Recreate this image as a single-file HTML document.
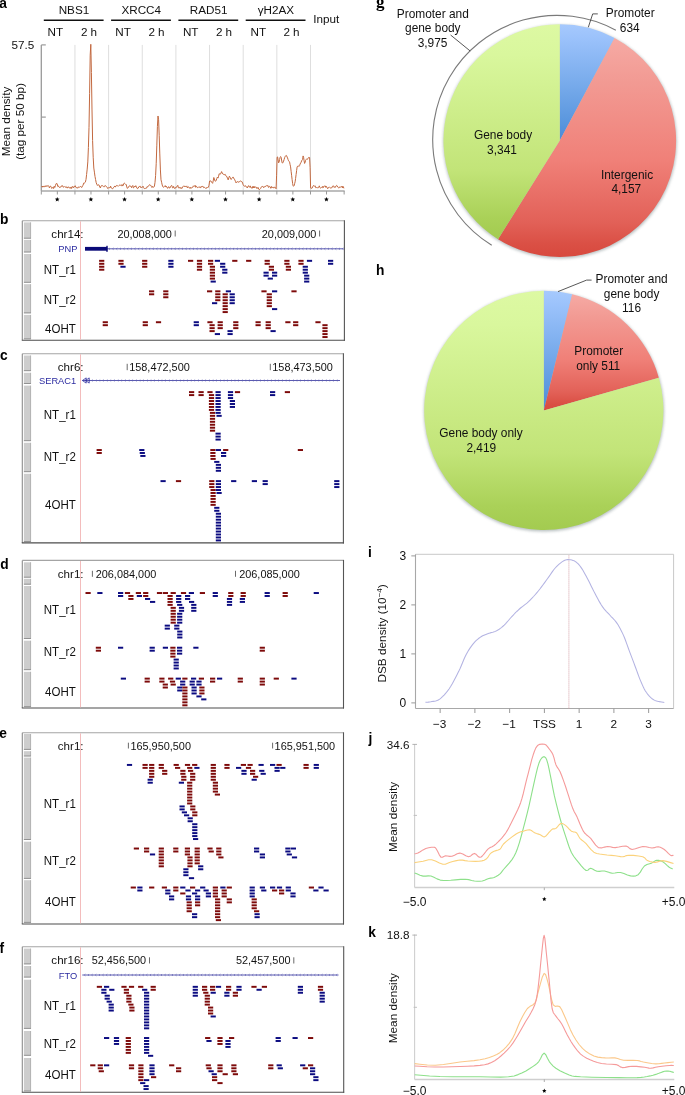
<!DOCTYPE html>
<html><head><meta charset="utf-8"><style>
html,body{margin:0;padding:0;background:#fff;width:685px;height:1095px;overflow:hidden;}
svg{display:block;font-family:"Liberation Sans", sans-serif;will-change:transform;}
</style></head><body>
<svg width="685" height="1095" viewBox="0 0 685 1095"><defs>
<linearGradient id="gGreen" x1="0" y1="0" x2="0" y2="1">
 <stop offset="0" stop-color="#ddf9a3"/><stop offset="0.14" stop-color="#d9f79d"/>
 <stop offset="0.68" stop-color="#c2e478"/><stop offset="0.9" stop-color="#aad158"/><stop offset="1" stop-color="#a3cb50"/>
</linearGradient>
<linearGradient id="gRed" x1="0" y1="0" x2="0" y2="1">
 <stop offset="0" stop-color="#f6aaa4"/><stop offset="0.2" stop-color="#f29a93"/>
 <stop offset="0.56" stop-color="#f08078"/><stop offset="0.84" stop-color="#e26158"/><stop offset="0.945" stop-color="#da4f44"/><stop offset="1" stop-color="#d8493e"/>
</linearGradient>
<linearGradient id="gBlue" x1="0" y1="0" x2="0" y2="1">
 <stop offset="0" stop-color="#a6c9fd"/><stop offset="0.12" stop-color="#9bc2fb"/>
 <stop offset="0.84" stop-color="#5a97de"/><stop offset="1" stop-color="#4a8ad8"/>
</linearGradient>
<filter id="pieShadow" x="-10%" y="-10%" width="120%" height="120%"><feGaussianBlur stdDeviation="1.6"/></filter>
</defs><text transform="translate(-0.80,7.90) scale(0.9,1)" font-size="15.3" font-weight="bold" fill="#000" font-family='"Liberation Sans", sans-serif'>a</text>
<text x="73.95" y="14.20" font-size="11.7" text-anchor="middle" fill="#111" font-weight="normal" font-family='"Liberation Sans", sans-serif' >NBS1</text>
<line x1="43.80" y1="20.20" x2="103.60" y2="20.20" stroke="#111" stroke-width="1.5" />
<text x="55.40" y="36.00" font-size="11.7" text-anchor="middle" fill="#111" font-weight="normal" font-family='"Liberation Sans", sans-serif' >NT</text>
<text x="89.00" y="36.00" font-size="11.7" text-anchor="middle" fill="#111" font-weight="normal" font-family='"Liberation Sans", sans-serif' >2 h</text>
<text x="141.25" y="14.20" font-size="11.7" text-anchor="middle" fill="#111" font-weight="normal" font-family='"Liberation Sans", sans-serif' >XRCC4</text>
<line x1="111.10" y1="20.20" x2="170.90" y2="20.20" stroke="#111" stroke-width="1.5" />
<text x="123.05" y="36.00" font-size="11.7" text-anchor="middle" fill="#111" font-weight="normal" font-family='"Liberation Sans", sans-serif' >NT</text>
<text x="156.50" y="36.00" font-size="11.7" text-anchor="middle" fill="#111" font-weight="normal" font-family='"Liberation Sans", sans-serif' >2 h</text>
<text x="208.55" y="14.20" font-size="11.7" text-anchor="middle" fill="#111" font-weight="normal" font-family='"Liberation Sans", sans-serif' >RAD51</text>
<line x1="178.40" y1="20.20" x2="238.20" y2="20.20" stroke="#111" stroke-width="1.5" />
<text x="190.70" y="36.00" font-size="11.7" text-anchor="middle" fill="#111" font-weight="normal" font-family='"Liberation Sans", sans-serif' >NT</text>
<text x="224.00" y="36.00" font-size="11.7" text-anchor="middle" fill="#111" font-weight="normal" font-family='"Liberation Sans", sans-serif' >2 h</text>
<text x="275.85" y="14.20" font-size="11.7" text-anchor="middle" fill="#111" font-weight="normal" font-family='"Liberation Sans", sans-serif' >γH2AX</text>
<line x1="245.70" y1="20.20" x2="305.50" y2="20.20" stroke="#111" stroke-width="1.5" />
<text x="258.35" y="36.00" font-size="11.7" text-anchor="middle" fill="#111" font-weight="normal" font-family='"Liberation Sans", sans-serif' >NT</text>
<text x="291.50" y="36.00" font-size="11.7" text-anchor="middle" fill="#111" font-weight="normal" font-family='"Liberation Sans", sans-serif' >2 h</text>
<text x="313.30" y="23.30" font-size="11.7" text-anchor="start" fill="#111" font-weight="normal" font-family='"Liberation Sans", sans-serif' >Input</text>
<line x1="41.30" y1="44.90" x2="41.30" y2="191.00" stroke="#999" stroke-width="1.3" />
<line x1="41.30" y1="44.90" x2="45.80" y2="44.90" stroke="#999" stroke-width="1.2" />
<line x1="41.30" y1="117.10" x2="45.80" y2="117.10" stroke="#999" stroke-width="1.2" />
<text x="34.30" y="49.20" font-size="11.7" text-anchor="end" fill="#111" font-weight="normal" font-family='"Liberation Sans", sans-serif' >57.5</text>
<text transform="translate(10.0,121.5) rotate(-90)" font-size="11.7" text-anchor="middle" fill="#111" font-family='"Liberation Sans", sans-serif'>Mean density</text>
<text transform="translate(24.2,121.5) rotate(-90)" font-size="11.7" text-anchor="middle" fill="#111" font-family='"Liberation Sans", sans-serif'>(tag per 50 bp)</text>
<line x1="74.95" y1="44.90" x2="74.95" y2="191.00" stroke="#dedede" stroke-width="1" />
<line x1="108.60" y1="44.90" x2="108.60" y2="191.00" stroke="#dedede" stroke-width="1" />
<line x1="142.25" y1="44.90" x2="142.25" y2="191.00" stroke="#dedede" stroke-width="1" />
<line x1="175.90" y1="44.90" x2="175.90" y2="191.00" stroke="#dedede" stroke-width="1" />
<line x1="209.55" y1="44.90" x2="209.55" y2="191.00" stroke="#dedede" stroke-width="1" />
<line x1="243.20" y1="44.90" x2="243.20" y2="191.00" stroke="#dedede" stroke-width="1" />
<line x1="276.85" y1="44.90" x2="276.85" y2="191.00" stroke="#dedede" stroke-width="1" />
<line x1="310.50" y1="44.90" x2="310.50" y2="191.00" stroke="#dedede" stroke-width="1" />
<line x1="41.30" y1="191.00" x2="344.65" y2="191.00" stroke="#a8a8a8" stroke-width="1.5" />
<line x1="41.30" y1="191.00" x2="41.30" y2="194.50" stroke="#999" stroke-width="1" />
<line x1="57.33" y1="191.00" x2="57.33" y2="194.50" stroke="#999" stroke-width="1" />
<line x1="74.95" y1="191.00" x2="74.95" y2="194.50" stroke="#999" stroke-width="1" />
<line x1="90.97" y1="191.00" x2="90.97" y2="194.50" stroke="#999" stroke-width="1" />
<line x1="108.60" y1="191.00" x2="108.60" y2="194.50" stroke="#999" stroke-width="1" />
<line x1="124.62" y1="191.00" x2="124.62" y2="194.50" stroke="#999" stroke-width="1" />
<line x1="142.25" y1="191.00" x2="142.25" y2="194.50" stroke="#999" stroke-width="1" />
<line x1="158.27" y1="191.00" x2="158.27" y2="194.50" stroke="#999" stroke-width="1" />
<line x1="175.90" y1="191.00" x2="175.90" y2="194.50" stroke="#999" stroke-width="1" />
<line x1="191.92" y1="191.00" x2="191.92" y2="194.50" stroke="#999" stroke-width="1" />
<line x1="209.55" y1="191.00" x2="209.55" y2="194.50" stroke="#999" stroke-width="1" />
<line x1="225.57" y1="191.00" x2="225.57" y2="194.50" stroke="#999" stroke-width="1" />
<line x1="243.20" y1="191.00" x2="243.20" y2="194.50" stroke="#999" stroke-width="1" />
<line x1="259.22" y1="191.00" x2="259.22" y2="194.50" stroke="#999" stroke-width="1" />
<line x1="276.85" y1="191.00" x2="276.85" y2="194.50" stroke="#999" stroke-width="1" />
<line x1="292.88" y1="191.00" x2="292.88" y2="194.50" stroke="#999" stroke-width="1" />
<line x1="310.50" y1="191.00" x2="310.50" y2="194.50" stroke="#999" stroke-width="1" />
<line x1="326.52" y1="191.00" x2="326.52" y2="194.50" stroke="#999" stroke-width="1" />
<line x1="344.15" y1="191.00" x2="344.15" y2="194.50" stroke="#999" stroke-width="1" />
<path d="M57.23,196.90 L57.89,198.49 L59.60,198.63 L58.29,199.75 L58.69,201.42 L57.23,200.53 L55.76,201.42 L56.16,199.75 L54.85,198.63 L56.56,198.49Z" fill="#000"/>
<path d="M90.87,196.90 L91.54,198.49 L93.25,198.63 L91.94,199.75 L92.34,201.42 L90.87,200.53 L89.41,201.42 L89.81,199.75 L88.50,198.63 L90.21,198.49Z" fill="#000"/>
<path d="M124.52,196.90 L125.19,198.49 L126.90,198.63 L125.59,199.75 L125.99,201.42 L124.52,200.53 L123.06,201.42 L123.46,199.75 L122.15,198.63 L123.86,198.49Z" fill="#000"/>
<path d="M158.17,196.90 L158.84,198.49 L160.55,198.63 L159.24,199.75 L159.64,201.42 L158.17,200.53 L156.71,201.42 L157.11,199.75 L155.80,198.63 L157.51,198.49Z" fill="#000"/>
<path d="M191.82,196.90 L192.49,198.49 L194.20,198.63 L192.89,199.75 L193.29,201.42 L191.82,200.53 L190.36,201.42 L190.76,199.75 L189.45,198.63 L191.16,198.49Z" fill="#000"/>
<path d="M225.47,196.90 L226.14,198.49 L227.85,198.63 L226.54,199.75 L226.94,201.42 L225.47,200.53 L224.01,201.42 L224.41,199.75 L223.10,198.63 L224.81,198.49Z" fill="#000"/>
<path d="M259.12,196.90 L259.79,198.49 L261.50,198.63 L260.19,199.75 L260.59,201.42 L259.12,200.53 L257.66,201.42 L258.06,199.75 L256.75,198.63 L258.46,198.49Z" fill="#000"/>
<path d="M292.78,196.90 L293.44,198.49 L295.15,198.63 L293.84,199.75 L294.24,201.42 L292.78,200.53 L291.31,201.42 L291.71,199.75 L290.40,198.63 L292.11,198.49Z" fill="#000"/>
<path d="M326.43,196.90 L327.09,198.49 L328.80,198.63 L327.49,199.75 L327.89,201.42 L326.43,200.53 L324.96,201.42 L325.36,199.75 L324.05,198.63 L325.76,198.49Z" fill="#000"/>
<path d="M41.60,186.69 L42.20,186.01 L42.80,187.22 L43.40,185.96 L44.00,186.87 L44.60,186.69 L45.20,185.74 L45.80,186.71 L46.40,185.68 L47.00,186.47 L47.60,185.70 L48.20,185.48 L48.80,186.38 L49.40,187.86 L50.00,186.34 L50.60,186.09 L51.20,187.18 L51.80,188.49 L52.40,187.87 L53.00,187.13 L53.60,188.53 L54.20,186.22 L54.80,187.45 L55.40,185.63 L56.00,183.95 L56.60,183.18 L57.20,184.02 L57.80,186.52 L58.40,185.96 L59.00,187.03 L59.60,187.56 L60.20,186.96 L60.80,187.25 L61.40,185.95 L62.00,185.48 L62.60,185.74 L63.20,187.21 L63.80,186.99 L64.40,186.58 L65.00,187.23 L65.60,187.07 L66.20,186.57 L66.80,187.83 L67.40,187.99 L68.00,186.73 L68.60,187.25 L69.20,187.28 L69.80,188.31 L70.40,188.25 L71.00,186.94 L71.60,188.49 L72.20,186.53 L72.80,186.71 L73.40,187.75 L74.00,186.36 L74.60,186.83 L75.20,185.69 L75.80,187.09 L76.40,187.84 L77.00,187.52 L77.60,188.25 L78.20,186.83 L78.80,187.37 L79.40,187.19 L80.00,186.98 L80.60,186.41 L81.20,187.15 L81.80,187.49 L82.40,185.95 L83.00,185.57 L83.60,183.18 L84.20,183.52 L84.80,182.56 L85.40,181.96 L86.00,179.47 L86.60,174.44 L87.20,169.08 L87.80,161.92 L88.40,147.59 L89.00,127.32 L89.60,93.68 L90.20,55.19 L90.80,44.29 L91.40,72.50 L92.00,109.99 L92.60,140.55 L93.20,157.24 L93.80,168.03 L94.40,172.14 L95.00,176.50 L95.60,179.63 L96.20,182.65 L96.80,184.24 L97.40,185.46 L98.00,184.59 L98.60,185.00 L99.20,185.21 L99.80,187.00 L100.40,187.98 L101.00,186.09 L101.60,185.59 L102.20,185.64 L102.80,185.71 L103.40,186.51 L104.00,187.12 L104.60,186.41 L105.20,185.42 L105.80,186.30 L106.40,186.47 L107.00,187.11 L107.60,188.46 L108.20,188.17 L108.80,187.57 L109.40,187.65 L110.00,187.85 L110.60,186.12 L111.20,187.97 L111.80,188.26 L112.40,188.64 L113.00,188.55 L113.60,187.35 L114.20,186.94 L114.80,185.94 L115.40,187.13 L116.00,185.89 L116.60,185.47 L117.20,185.73 L117.80,185.69 L118.40,186.19 L119.00,185.52 L119.60,185.12 L120.20,185.38 L120.80,185.21 L121.40,185.69 L122.00,184.51 L122.60,186.07 L123.20,185.37 L123.80,183.48 L124.40,183.15 L125.00,183.67 L125.60,184.42 L126.20,184.48 L126.80,186.95 L127.40,188.42 L128.00,187.48 L128.60,187.22 L129.20,185.97 L129.80,185.58 L130.40,186.14 L131.00,186.11 L131.60,187.73 L132.20,186.36 L132.80,185.48 L133.40,187.86 L134.00,187.46 L134.60,186.21 L135.20,186.92 L135.80,185.67 L136.40,186.68 L137.00,188.34 L137.60,188.58 L138.20,188.18 L138.80,186.77 L139.40,186.58 L140.00,185.93 L140.60,187.45 L141.20,187.28 L141.80,187.93 L142.40,186.84 L143.00,186.14 L143.60,187.59 L144.20,188.59 L144.80,188.55 L145.40,188.38 L146.00,188.34 L146.60,188.08 L147.20,186.47 L147.80,186.73 L148.40,186.31 L149.00,185.18 L149.60,184.74 L150.20,185.25 L150.80,185.31 L151.40,186.50 L152.00,187.57 L152.60,186.33 L153.20,187.12 L153.80,187.21 L154.40,186.37 L155.00,182.33 L155.60,175.59 L156.20,163.75 L156.80,145.87 L157.40,126.58 L158.00,115.98 L158.60,119.74 L159.20,135.32 L159.80,153.95 L160.40,169.96 L161.00,179.81 L161.60,182.24 L162.20,184.97 L162.80,186.73 L163.40,187.09 L164.00,187.24 L164.60,186.59 L165.20,185.57 L165.80,187.05 L166.40,186.30 L167.00,187.43 L167.60,188.36 L168.20,187.05 L168.80,186.63 L169.40,188.09 L170.00,187.97 L170.60,186.34 L171.20,185.66 L171.80,185.50 L172.40,187.65 L173.00,188.12 L173.60,186.38 L174.20,187.75 L174.80,188.69 L175.40,188.08 L176.00,186.99 L176.60,187.19 L177.20,186.05 L177.80,185.32 L178.40,187.84 L179.00,187.79 L179.60,187.42 L180.20,188.48 L180.80,187.40 L181.40,188.30 L182.00,188.48 L182.60,186.76 L183.20,186.28 L183.80,186.24 L184.40,186.07 L185.00,187.02 L185.60,186.40 L186.20,186.65 L186.80,185.90 L187.40,187.90 L188.00,186.99 L188.60,186.97 L189.20,187.33 L189.80,188.39 L190.40,187.36 L191.00,188.44 L191.60,187.61 L192.20,187.41 L192.80,187.32 L193.40,185.82 L194.00,186.52 L194.60,186.02 L195.20,185.33 L195.80,187.39 L196.40,186.30 L197.00,186.79 L197.60,187.69 L198.20,187.52 L198.80,186.79 L199.40,187.09 L200.00,187.31 L200.60,188.05 L201.20,186.34 L201.80,187.06 L202.40,186.41 L203.00,186.26 L203.60,187.65 L204.20,187.37 L204.80,187.42 L205.40,188.02 L206.00,188.67 L206.60,187.54 L207.20,187.63 L207.80,187.36 L208.40,187.28 L209.00,185.23 L209.60,181.03 L210.20,180.87 L210.80,180.89 L211.40,182.07 L212.00,182.56 L212.60,183.35 L213.20,180.92 L213.80,177.50 L214.40,178.82 L215.00,181.02 L215.60,181.22 L216.20,180.46 L216.80,178.46 L217.40,177.10 L218.00,178.11 L218.60,176.23 L219.20,173.69 L219.80,174.08 L220.40,174.16 L221.00,173.06 L221.60,171.59 L222.20,172.98 L222.80,173.90 L223.40,174.04 L224.00,174.87 L224.60,174.64 L225.20,174.34 L225.80,175.78 L226.40,176.07 L227.00,176.97 L227.60,178.73 L228.20,179.87 L228.80,177.80 L229.40,176.19 L230.00,177.08 L230.60,178.86 L231.20,179.51 L231.80,178.35 L232.40,177.66 L233.00,176.93 L233.60,177.97 L234.20,178.97 L234.80,179.80 L235.40,181.39 L236.00,182.92 L236.60,182.46 L237.20,181.40 L237.80,181.92 L238.40,182.01 L239.00,182.37 L239.60,181.43 L240.20,181.25 L240.80,180.81 L241.40,181.57 L242.00,181.69 L242.60,183.04 L243.20,184.75 L243.80,185.78 L244.40,186.22 L245.00,185.83 L245.60,185.76 L246.20,186.95 L246.80,187.12 L247.40,187.95 L248.00,186.27 L248.60,185.59 L249.20,187.18 L249.80,186.97 L250.40,185.88 L251.00,188.00 L251.60,187.87 L252.20,188.31 L252.80,186.38 L253.40,187.94 L254.00,186.20 L254.60,187.90 L255.20,187.31 L255.80,186.78 L256.40,187.26 L257.00,188.66 L257.60,187.61 L258.20,187.48 L258.80,189.34 L259.40,189.63 L260.00,189.21 L260.60,188.51 L261.20,187.14 L261.80,186.57 L262.40,186.46 L263.00,186.36 L263.60,187.64 L264.20,186.74 L264.80,187.04 L265.40,186.21 L266.00,186.41 L266.60,185.52 L267.20,185.89 L267.80,185.33 L268.40,187.22 L269.00,187.35 L269.60,186.35 L270.20,186.83 L270.80,188.33 L271.40,186.45 L272.00,187.86 L272.60,187.23 L273.20,187.19 L273.80,188.17 L274.40,187.23 L275.00,187.23 L275.60,187.75 L276.10,188.79 L276.60,175.16 L277.10,157.22 L277.60,156.89 L278.10,160.00 L278.60,162.85 L279.10,161.99 L279.60,159.49 L280.10,157.31 L280.60,156.53 L281.10,157.23 L281.60,160.01 L282.10,162.86 L282.60,163.05 L283.10,162.31 L283.60,161.13 L284.10,159.52 L284.60,157.71 L285.10,156.62 L285.60,155.77 L286.10,155.37 L286.60,155.63 L287.10,157.06 L287.60,157.99 L288.10,159.66 L288.60,160.81 L289.10,161.35 L289.60,162.05 L290.10,164.73 L290.60,166.85 L291.10,171.24 L291.60,175.24 L292.10,179.48 L292.60,183.36 L293.10,185.95 L293.60,186.23 L294.10,185.69 L294.60,183.76 L295.10,181.87 L295.60,178.43 L296.10,174.53 L296.60,170.63 L297.10,167.02 L297.60,166.16 L298.10,165.68 L298.60,166.14 L299.10,166.46 L299.60,165.56 L300.10,164.05 L300.60,163.04 L301.10,162.26 L301.60,160.91 L302.10,159.94 L302.60,159.38 L303.10,155.92 L303.60,157.30 L304.10,160.84 L304.60,163.46 L305.10,162.45 L305.60,160.32 L306.10,159.39 L306.60,158.94 L307.10,159.54 L307.60,159.09 L308.10,158.25 L308.60,157.44 L309.10,157.54 L309.60,157.47 L310.10,167.75 L310.60,187.92 L311.10,188.59 L311.60,188.22 L312.10,188.11 L312.70,186.74 L313.30,185.68 L313.90,185.60 L314.50,186.24 L315.10,185.72 L315.70,187.65 L316.30,187.53 L316.90,187.68 L317.50,187.73 L318.10,187.91 L318.70,187.42 L319.30,185.83 L319.90,187.58 L320.50,188.05 L321.10,187.51 L321.70,187.41 L322.30,187.73 L322.90,186.13 L323.50,187.51 L324.10,186.59 L324.70,185.75 L325.30,186.01 L325.90,187.45 L326.50,186.43 L327.10,187.63 L327.70,188.73 L328.30,187.72 L328.90,187.04 L329.50,187.08 L330.10,187.69 L330.70,188.14 L331.30,187.87 L331.90,187.85 L332.50,186.20 L333.10,185.83 L333.70,186.00 L334.30,187.49 L334.90,186.73 L335.50,187.23 L336.10,185.80 L336.70,185.43 L337.30,185.91 L337.90,187.25 L338.50,187.77 L339.10,187.91 L339.70,186.84 L340.30,187.12 L340.90,187.07 L341.50,187.06 L342.10,186.04 L342.70,187.94 L343.30,186.58 L343.90,188.37" fill="none" stroke="#c2683f" stroke-width="1.0" stroke-linejoin="round" />
<text transform="translate(0.00,223.60) scale(0.9,1)" font-size="15.3" font-weight="bold" fill="#000" font-family='"Liberation Sans", sans-serif'>b</text>
<line x1="22.30" y1="220.70" x2="344.40" y2="220.70" stroke="#a4a4a4" stroke-width="1.1" />
<line x1="22.30" y1="220.70" x2="22.30" y2="340.20" stroke="#8c8c8c" stroke-width="1.1" />
<line x1="344.40" y1="220.20" x2="344.40" y2="340.70" stroke="#555" stroke-width="1.1" />
<line x1="21.80" y1="340.20" x2="344.90" y2="340.20" stroke="#4c4c4c" stroke-width="1.1" />
<rect x="23.90" y="222.40" width="7.00" height="16.10" fill="#cdcdcd" />
<line x1="30.60" y1="222.40" x2="30.60" y2="238.50" stroke="#a9a9a9" stroke-width="0.8" />
<line x1="23.90" y1="238.20" x2="30.90" y2="238.20" stroke="#8a8a8a" stroke-width="0.9" />
<rect x="23.90" y="239.90" width="7.00" height="12.40" fill="#cdcdcd" />
<line x1="30.60" y1="239.90" x2="30.60" y2="252.30" stroke="#a9a9a9" stroke-width="0.8" />
<line x1="23.90" y1="252.00" x2="30.90" y2="252.00" stroke="#8a8a8a" stroke-width="0.9" />
<rect x="23.90" y="254.00" width="7.00" height="28.60" fill="#cdcdcd" />
<line x1="30.60" y1="254.00" x2="30.60" y2="282.60" stroke="#a9a9a9" stroke-width="0.8" />
<line x1="23.90" y1="282.30" x2="30.90" y2="282.30" stroke="#8a8a8a" stroke-width="0.9" />
<rect x="23.90" y="284.20" width="7.00" height="29.00" fill="#cdcdcd" />
<line x1="30.60" y1="284.20" x2="30.60" y2="313.20" stroke="#a9a9a9" stroke-width="0.8" />
<line x1="23.90" y1="312.90" x2="30.90" y2="312.90" stroke="#8a8a8a" stroke-width="0.9" />
<rect x="23.90" y="314.90" width="7.00" height="24.30" fill="#cdcdcd" />
<line x1="30.60" y1="314.90" x2="30.60" y2="339.20" stroke="#a9a9a9" stroke-width="0.8" />
<line x1="23.90" y1="338.90" x2="30.90" y2="338.90" stroke="#8a8a8a" stroke-width="0.9" />
<line x1="80.50" y1="221.30" x2="80.50" y2="339.60" stroke="#f2b4b4" stroke-width="0.9" />
<text x="83.60" y="237.90" font-size="11.6" text-anchor="end" fill="#111" font-weight="normal" font-family='"Liberation Sans", sans-serif' >chr14:</text>
<line x1="175.20" y1="230.50" x2="175.20" y2="236.50" stroke="#444" stroke-width="0.8" />
<text x="171.90" y="237.90" font-size="10.9" text-anchor="end" fill="#111" font-weight="normal" font-family='"Liberation Sans", sans-serif' >20,008,000</text>
<line x1="319.60" y1="230.50" x2="319.60" y2="236.50" stroke="#444" stroke-width="0.8" />
<text x="316.30" y="237.90" font-size="10.9" text-anchor="end" fill="#111" font-weight="normal" font-family='"Liberation Sans", sans-serif' >20,009,000</text>
<text x="77.40" y="251.60" font-size="9.3" text-anchor="end" fill="#2b2ba0" font-weight="normal" font-family='"Liberation Sans", sans-serif' >PNP</text>
<line x1="85.00" y1="248.80" x2="343.50" y2="248.80" stroke="#4a4aa8" stroke-width="0.9" />
<path d="M88.10,247.90 L87.00,248.80 L88.10,249.70 M91.75,247.90 L90.65,248.80 L91.75,249.70 M95.40,247.90 L94.30,248.80 L95.40,249.70 M99.05,247.90 L97.95,248.80 L99.05,249.70 M102.70,247.90 L101.60,248.80 L102.70,249.70 M106.35,247.90 L105.25,248.80 L106.35,249.70 M110.00,247.90 L108.90,248.80 L110.00,249.70 M113.65,247.90 L112.55,248.80 L113.65,249.70 M117.30,247.90 L116.20,248.80 L117.30,249.70 M120.95,247.90 L119.85,248.80 L120.95,249.70 M124.60,247.90 L123.50,248.80 L124.60,249.70 M128.25,247.90 L127.15,248.80 L128.25,249.70 M131.90,247.90 L130.80,248.80 L131.90,249.70 M135.55,247.90 L134.45,248.80 L135.55,249.70 M139.20,247.90 L138.10,248.80 L139.20,249.70 M142.85,247.90 L141.75,248.80 L142.85,249.70 M146.50,247.90 L145.40,248.80 L146.50,249.70 M150.15,247.90 L149.05,248.80 L150.15,249.70 M153.80,247.90 L152.70,248.80 L153.80,249.70 M157.45,247.90 L156.35,248.80 L157.45,249.70 M161.10,247.90 L160.00,248.80 L161.10,249.70 M164.75,247.90 L163.65,248.80 L164.75,249.70 M168.40,247.90 L167.30,248.80 L168.40,249.70 M172.05,247.90 L170.95,248.80 L172.05,249.70 M175.70,247.90 L174.60,248.80 L175.70,249.70 M179.35,247.90 L178.25,248.80 L179.35,249.70 M183.00,247.90 L181.90,248.80 L183.00,249.70 M186.65,247.90 L185.55,248.80 L186.65,249.70 M190.30,247.90 L189.20,248.80 L190.30,249.70 M193.95,247.90 L192.85,248.80 L193.95,249.70 M197.60,247.90 L196.50,248.80 L197.60,249.70 M201.25,247.90 L200.15,248.80 L201.25,249.70 M204.90,247.90 L203.80,248.80 L204.90,249.70 M208.55,247.90 L207.45,248.80 L208.55,249.70 M212.20,247.90 L211.10,248.80 L212.20,249.70 M215.85,247.90 L214.75,248.80 L215.85,249.70 M219.50,247.90 L218.40,248.80 L219.50,249.70 M223.15,247.90 L222.05,248.80 L223.15,249.70 M226.80,247.90 L225.70,248.80 L226.80,249.70 M230.45,247.90 L229.35,248.80 L230.45,249.70 M234.10,247.90 L233.00,248.80 L234.10,249.70 M237.75,247.90 L236.65,248.80 L237.75,249.70 M241.40,247.90 L240.30,248.80 L241.40,249.70 M245.05,247.90 L243.95,248.80 L245.05,249.70 M248.70,247.90 L247.60,248.80 L248.70,249.70 M252.35,247.90 L251.25,248.80 L252.35,249.70 M256.00,247.90 L254.90,248.80 L256.00,249.70 M259.65,247.90 L258.55,248.80 L259.65,249.70 M263.30,247.90 L262.20,248.80 L263.30,249.70 M266.95,247.90 L265.85,248.80 L266.95,249.70 M270.60,247.90 L269.50,248.80 L270.60,249.70 M274.25,247.90 L273.15,248.80 L274.25,249.70 M277.90,247.90 L276.80,248.80 L277.90,249.70 M281.55,247.90 L280.45,248.80 L281.55,249.70 M285.20,247.90 L284.10,248.80 L285.20,249.70 M288.85,247.90 L287.75,248.80 L288.85,249.70 M292.50,247.90 L291.40,248.80 L292.50,249.70 M296.15,247.90 L295.05,248.80 L296.15,249.70 M299.80,247.90 L298.70,248.80 L299.80,249.70 M303.45,247.90 L302.35,248.80 L303.45,249.70 M307.10,247.90 L306.00,248.80 L307.10,249.70 M310.75,247.90 L309.65,248.80 L310.75,249.70 M314.40,247.90 L313.30,248.80 L314.40,249.70 M318.05,247.90 L316.95,248.80 L318.05,249.70 M321.70,247.90 L320.60,248.80 L321.70,249.70 M325.35,247.90 L324.25,248.80 L325.35,249.70 M329.00,247.90 L327.90,248.80 L329.00,249.70 M332.65,247.90 L331.55,248.80 L332.65,249.70 M336.30,247.90 L335.20,248.80 L336.30,249.70 M339.95,247.90 L338.85,248.80 L339.95,249.70 M343.60,247.90 L342.50,248.80 L343.60,249.70" fill="none" stroke="#5a5ab0" stroke-width="0.6"/>
<rect x="85.00" y="246.90" width="22.20" height="3.80" fill="#0a0a78" />
<rect x="106.30" y="245.80" width="1.40" height="6.00" fill="#0a0a78" />
<text transform="translate(75.8,274.10) scale(0.93,1)" font-size="12.4" text-anchor="end" fill="#111" font-family='"Liberation Sans", sans-serif'>NT_r1</text>
<rect x="99.10" y="259.85" width="5.20" height="1.95" fill="#7d0a0a" />
<rect x="99.10" y="262.81" width="5.20" height="1.95" fill="#7d0a0a" />
<rect x="99.10" y="265.78" width="5.20" height="1.95" fill="#7d0a0a" />
<rect x="99.10" y="268.75" width="5.20" height="1.95" fill="#7d0a0a" />
<rect x="118.40" y="259.85" width="5.20" height="1.95" fill="#7d0a0a" />
<rect x="118.40" y="262.81" width="5.20" height="1.95" fill="#7d0a0a" />
<rect x="120.40" y="265.78" width="5.20" height="1.95" fill="#0b0b80" />
<rect x="142.10" y="259.85" width="5.20" height="1.95" fill="#7d0a0a" />
<rect x="142.10" y="262.81" width="5.20" height="1.95" fill="#7d0a0a" />
<rect x="142.10" y="265.78" width="5.20" height="1.95" fill="#7d0a0a" />
<rect x="168.30" y="259.85" width="5.20" height="1.95" fill="#0b0b80" />
<rect x="168.30" y="262.81" width="5.20" height="1.95" fill="#0b0b80" />
<rect x="168.30" y="265.78" width="5.20" height="1.95" fill="#0b0b80" />
<rect x="188.00" y="259.85" width="5.20" height="1.95" fill="#7d0a0a" />
<rect x="196.90" y="259.85" width="5.20" height="1.95" fill="#7d0a0a" />
<rect x="196.90" y="262.81" width="5.20" height="1.95" fill="#7d0a0a" />
<rect x="196.90" y="265.78" width="5.20" height="1.95" fill="#7d0a0a" />
<rect x="196.90" y="268.75" width="5.20" height="1.95" fill="#7d0a0a" />
<rect x="208.00" y="259.85" width="5.20" height="1.95" fill="#7d0a0a" />
<rect x="208.00" y="262.81" width="5.20" height="1.95" fill="#7d0a0a" />
<rect x="209.80" y="265.78" width="5.20" height="1.95" fill="#7d0a0a" />
<rect x="209.80" y="268.75" width="5.20" height="1.95" fill="#7d0a0a" />
<rect x="209.80" y="271.71" width="5.20" height="1.95" fill="#7d0a0a" />
<rect x="209.80" y="274.68" width="5.20" height="1.95" fill="#7d0a0a" />
<rect x="209.80" y="277.64" width="5.20" height="1.95" fill="#7d0a0a" />
<rect x="210.60" y="280.61" width="5.20" height="1.95" fill="#0b0b80" />
<rect x="214.80" y="259.85" width="5.20" height="1.95" fill="#0b0b80" />
<rect x="220.10" y="262.81" width="5.20" height="1.95" fill="#0b0b80" />
<rect x="220.10" y="265.78" width="5.20" height="1.95" fill="#0b0b80" />
<rect x="222.20" y="268.75" width="5.20" height="1.95" fill="#0b0b80" />
<rect x="222.20" y="271.71" width="5.20" height="1.95" fill="#0b0b80" />
<rect x="232.20" y="259.85" width="5.20" height="1.95" fill="#7d0a0a" />
<rect x="246.10" y="259.85" width="5.20" height="1.95" fill="#7d0a0a" />
<rect x="264.60" y="259.85" width="5.20" height="1.95" fill="#7d0a0a" />
<rect x="264.60" y="262.81" width="5.20" height="1.95" fill="#7d0a0a" />
<rect x="268.80" y="265.78" width="5.20" height="1.95" fill="#7d0a0a" />
<rect x="268.80" y="268.75" width="5.20" height="1.95" fill="#7d0a0a" />
<rect x="263.50" y="271.71" width="5.20" height="1.95" fill="#0b0b80" />
<rect x="263.50" y="274.68" width="5.20" height="1.95" fill="#0b0b80" />
<rect x="272.00" y="271.71" width="5.20" height="1.95" fill="#0b0b80" />
<rect x="272.00" y="274.68" width="5.20" height="1.95" fill="#0b0b80" />
<rect x="267.70" y="277.64" width="5.20" height="1.95" fill="#0b0b80" />
<rect x="284.30" y="259.85" width="5.20" height="1.95" fill="#7d0a0a" />
<rect x="284.30" y="262.81" width="5.20" height="1.95" fill="#7d0a0a" />
<rect x="285.80" y="265.78" width="5.20" height="1.95" fill="#7d0a0a" />
<rect x="285.80" y="268.75" width="5.20" height="1.95" fill="#7d0a0a" />
<rect x="298.40" y="259.85" width="5.20" height="1.95" fill="#7d0a0a" />
<rect x="298.40" y="262.81" width="5.20" height="1.95" fill="#7d0a0a" />
<rect x="306.90" y="259.85" width="5.20" height="1.95" fill="#0b0b80" />
<rect x="302.70" y="265.78" width="5.20" height="1.95" fill="#0b0b80" />
<rect x="302.70" y="268.75" width="5.20" height="1.95" fill="#0b0b80" />
<rect x="302.70" y="271.71" width="5.20" height="1.95" fill="#0b0b80" />
<rect x="304.10" y="274.68" width="5.20" height="1.95" fill="#0b0b80" />
<rect x="304.10" y="277.64" width="5.20" height="1.95" fill="#0b0b80" />
<rect x="304.10" y="280.61" width="5.20" height="1.95" fill="#0b0b80" />
<rect x="328.00" y="259.85" width="5.20" height="1.95" fill="#0b0b80" />
<rect x="328.00" y="262.81" width="5.20" height="1.95" fill="#0b0b80" />
<text transform="translate(75.8,303.90) scale(0.93,1)" font-size="12.4" text-anchor="end" fill="#111" font-family='"Liberation Sans", sans-serif'>NT_r2</text>
<rect x="149.00" y="290.35" width="5.20" height="1.95" fill="#7d0a0a" />
<rect x="149.00" y="293.31" width="5.20" height="1.95" fill="#7d0a0a" />
<rect x="163.20" y="290.35" width="5.20" height="1.95" fill="#7d0a0a" />
<rect x="163.20" y="293.31" width="5.20" height="1.95" fill="#7d0a0a" />
<rect x="163.20" y="296.28" width="5.20" height="1.95" fill="#7d0a0a" />
<rect x="207.00" y="290.35" width="5.20" height="1.95" fill="#7d0a0a" />
<rect x="212.00" y="302.21" width="5.20" height="1.95" fill="#0b0b80" />
<rect x="215.20" y="290.35" width="5.20" height="1.95" fill="#7d0a0a" />
<rect x="215.20" y="293.31" width="5.20" height="1.95" fill="#7d0a0a" />
<rect x="215.20" y="296.28" width="5.20" height="1.95" fill="#7d0a0a" />
<rect x="215.20" y="299.25" width="5.20" height="1.95" fill="#7d0a0a" />
<rect x="225.80" y="290.35" width="5.20" height="1.95" fill="#0b0b80" />
<rect x="222.60" y="293.31" width="5.20" height="1.95" fill="#7d0a0a" />
<rect x="222.60" y="296.28" width="5.20" height="1.95" fill="#7d0a0a" />
<rect x="222.60" y="299.25" width="5.20" height="1.95" fill="#7d0a0a" />
<rect x="222.60" y="302.21" width="5.20" height="1.95" fill="#7d0a0a" />
<rect x="222.60" y="305.18" width="5.20" height="1.95" fill="#7d0a0a" />
<rect x="222.60" y="308.14" width="5.20" height="1.95" fill="#7d0a0a" />
<rect x="222.60" y="311.11" width="5.20" height="1.95" fill="#7d0a0a" />
<rect x="229.60" y="293.31" width="5.20" height="1.95" fill="#0b0b80" />
<rect x="229.60" y="296.28" width="5.20" height="1.95" fill="#0b0b80" />
<rect x="229.60" y="299.25" width="5.20" height="1.95" fill="#0b0b80" />
<rect x="229.60" y="302.21" width="5.20" height="1.95" fill="#0b0b80" />
<rect x="261.40" y="290.35" width="5.20" height="1.95" fill="#7d0a0a" />
<rect x="272.00" y="290.35" width="5.20" height="1.95" fill="#0b0b80" />
<rect x="266.70" y="293.31" width="5.20" height="1.95" fill="#7d0a0a" />
<rect x="266.70" y="296.28" width="5.20" height="1.95" fill="#7d0a0a" />
<rect x="266.70" y="299.25" width="5.20" height="1.95" fill="#7d0a0a" />
<rect x="266.70" y="302.21" width="5.20" height="1.95" fill="#7d0a0a" />
<rect x="266.70" y="305.18" width="5.20" height="1.95" fill="#7d0a0a" />
<rect x="272.00" y="308.14" width="5.20" height="1.95" fill="#0b0b80" />
<rect x="291.40" y="290.35" width="5.20" height="1.95" fill="#7d0a0a" />
<text transform="translate(75.8,332.50) scale(0.93,1)" font-size="12.4" text-anchor="end" fill="#111" font-family='"Liberation Sans", sans-serif'>4OHT</text>
<rect x="102.70" y="321.25" width="5.20" height="1.95" fill="#7d0a0a" />
<rect x="102.70" y="324.21" width="5.20" height="1.95" fill="#7d0a0a" />
<rect x="142.70" y="321.25" width="5.20" height="1.95" fill="#7d0a0a" />
<rect x="142.70" y="324.21" width="5.20" height="1.95" fill="#7d0a0a" />
<rect x="155.90" y="321.25" width="5.20" height="1.95" fill="#7d0a0a" />
<rect x="193.70" y="321.25" width="5.20" height="1.95" fill="#0b0b80" />
<rect x="193.70" y="324.21" width="5.20" height="1.95" fill="#0b0b80" />
<rect x="207.40" y="321.25" width="5.20" height="1.95" fill="#7d0a0a" />
<rect x="209.50" y="324.21" width="5.20" height="1.95" fill="#7d0a0a" />
<rect x="209.50" y="327.18" width="5.20" height="1.95" fill="#7d0a0a" />
<rect x="209.50" y="330.14" width="5.20" height="1.95" fill="#7d0a0a" />
<rect x="217.60" y="321.25" width="5.20" height="1.95" fill="#7d0a0a" />
<rect x="217.60" y="324.21" width="5.20" height="1.95" fill="#7d0a0a" />
<rect x="217.60" y="327.18" width="5.20" height="1.95" fill="#7d0a0a" />
<rect x="214.80" y="333.11" width="5.20" height="1.95" fill="#0b0b80" />
<rect x="233.20" y="321.25" width="5.20" height="1.95" fill="#7d0a0a" />
<rect x="233.20" y="324.21" width="5.20" height="1.95" fill="#7d0a0a" />
<rect x="233.20" y="327.18" width="5.20" height="1.95" fill="#7d0a0a" />
<rect x="227.50" y="330.14" width="5.20" height="1.95" fill="#0b0b80" />
<rect x="227.50" y="333.11" width="5.20" height="1.95" fill="#0b0b80" />
<rect x="255.50" y="321.25" width="5.20" height="1.95" fill="#7d0a0a" />
<rect x="255.50" y="324.21" width="5.20" height="1.95" fill="#7d0a0a" />
<rect x="265.60" y="321.25" width="5.20" height="1.95" fill="#7d0a0a" />
<rect x="265.60" y="324.21" width="5.20" height="1.95" fill="#7d0a0a" />
<rect x="265.60" y="327.18" width="5.20" height="1.95" fill="#7d0a0a" />
<rect x="270.50" y="330.14" width="5.20" height="1.95" fill="#0b0b80" />
<rect x="285.30" y="321.25" width="5.20" height="1.95" fill="#7d0a0a" />
<rect x="293.10" y="321.25" width="5.20" height="1.95" fill="#7d0a0a" />
<rect x="293.10" y="324.21" width="5.20" height="1.95" fill="#7d0a0a" />
<rect x="315.40" y="321.25" width="5.20" height="1.95" fill="#7d0a0a" />
<rect x="322.40" y="324.21" width="5.20" height="1.95" fill="#7d0a0a" />
<rect x="322.40" y="327.18" width="5.20" height="1.95" fill="#7d0a0a" />
<rect x="322.40" y="330.14" width="5.20" height="1.95" fill="#7d0a0a" />
<rect x="322.40" y="333.11" width="5.20" height="1.95" fill="#7d0a0a" />
<rect x="322.40" y="336.07" width="5.20" height="1.95" fill="#7d0a0a" />
<text transform="translate(0.10,360.00) scale(0.9,1)" font-size="15.3" font-weight="bold" fill="#000" font-family='"Liberation Sans", sans-serif'>c</text>
<line x1="22.30" y1="353.70" x2="343.40" y2="353.70" stroke="#a4a4a4" stroke-width="1.1" />
<line x1="22.30" y1="353.70" x2="22.30" y2="542.90" stroke="#8c8c8c" stroke-width="1.1" />
<line x1="343.40" y1="353.20" x2="343.40" y2="543.40" stroke="#555" stroke-width="1.1" />
<line x1="21.80" y1="542.90" x2="343.90" y2="542.90" stroke="#4c4c4c" stroke-width="1.1" />
<rect x="23.90" y="355.50" width="7.00" height="15.50" fill="#cdcdcd" />
<line x1="30.60" y1="355.50" x2="30.60" y2="371.00" stroke="#a9a9a9" stroke-width="0.8" />
<line x1="23.90" y1="370.70" x2="30.90" y2="370.70" stroke="#8a8a8a" stroke-width="0.9" />
<rect x="23.90" y="372.80" width="7.00" height="11.00" fill="#cdcdcd" />
<line x1="30.60" y1="372.80" x2="30.60" y2="383.80" stroke="#a9a9a9" stroke-width="0.8" />
<line x1="23.90" y1="383.50" x2="30.90" y2="383.50" stroke="#8a8a8a" stroke-width="0.9" />
<rect x="23.90" y="385.60" width="7.00" height="55.40" fill="#cdcdcd" />
<line x1="30.60" y1="385.60" x2="30.60" y2="441.00" stroke="#a9a9a9" stroke-width="0.8" />
<line x1="23.90" y1="440.70" x2="30.90" y2="440.70" stroke="#8a8a8a" stroke-width="0.9" />
<rect x="23.90" y="442.80" width="7.00" height="29.20" fill="#cdcdcd" />
<line x1="30.60" y1="442.80" x2="30.60" y2="472.00" stroke="#a9a9a9" stroke-width="0.8" />
<line x1="23.90" y1="471.70" x2="30.90" y2="471.70" stroke="#8a8a8a" stroke-width="0.9" />
<rect x="23.90" y="473.80" width="7.00" height="68.00" fill="#cdcdcd" />
<line x1="30.60" y1="473.80" x2="30.60" y2="541.80" stroke="#a9a9a9" stroke-width="0.8" />
<line x1="23.90" y1="541.50" x2="30.90" y2="541.50" stroke="#8a8a8a" stroke-width="0.9" />
<line x1="80.50" y1="354.30" x2="80.50" y2="542.30" stroke="#f2b4b4" stroke-width="0.9" />
<text x="83.60" y="370.60" font-size="11.6" text-anchor="end" fill="#111" font-weight="normal" font-family='"Liberation Sans", sans-serif' >chr6:</text>
<line x1="127.20" y1="363.80" x2="127.20" y2="370.20" stroke="#444" stroke-width="0.8" />
<text x="129.20" y="370.60" font-size="10.9" text-anchor="start" fill="#111" font-weight="normal" font-family='"Liberation Sans", sans-serif' >158,472,500</text>
<line x1="270.30" y1="363.80" x2="270.30" y2="370.20" stroke="#444" stroke-width="0.8" />
<text x="272.30" y="370.60" font-size="10.9" text-anchor="start" fill="#111" font-weight="normal" font-family='"Liberation Sans", sans-serif' >158,473,500</text>
<text x="76.20" y="384.00" font-size="9.3" text-anchor="end" fill="#2b2ba0" font-weight="normal" font-family='"Liberation Sans", sans-serif' >SERAC1</text>
<line x1="82.50" y1="380.50" x2="340.00" y2="380.50" stroke="#4a4aa8" stroke-width="0.9" />
<path d="M85.60,379.60 L84.50,380.50 L85.60,381.40 M89.25,379.60 L88.15,380.50 L89.25,381.40 M92.90,379.60 L91.80,380.50 L92.90,381.40 M96.55,379.60 L95.45,380.50 L96.55,381.40 M100.20,379.60 L99.10,380.50 L100.20,381.40 M103.85,379.60 L102.75,380.50 L103.85,381.40 M107.50,379.60 L106.40,380.50 L107.50,381.40 M111.15,379.60 L110.05,380.50 L111.15,381.40 M114.80,379.60 L113.70,380.50 L114.80,381.40 M118.45,379.60 L117.35,380.50 L118.45,381.40 M122.10,379.60 L121.00,380.50 L122.10,381.40 M125.75,379.60 L124.65,380.50 L125.75,381.40 M129.40,379.60 L128.30,380.50 L129.40,381.40 M133.05,379.60 L131.95,380.50 L133.05,381.40 M136.70,379.60 L135.60,380.50 L136.70,381.40 M140.35,379.60 L139.25,380.50 L140.35,381.40 M144.00,379.60 L142.90,380.50 L144.00,381.40 M147.65,379.60 L146.55,380.50 L147.65,381.40 M151.30,379.60 L150.20,380.50 L151.30,381.40 M154.95,379.60 L153.85,380.50 L154.95,381.40 M158.60,379.60 L157.50,380.50 L158.60,381.40 M162.25,379.60 L161.15,380.50 L162.25,381.40 M165.90,379.60 L164.80,380.50 L165.90,381.40 M169.55,379.60 L168.45,380.50 L169.55,381.40 M173.20,379.60 L172.10,380.50 L173.20,381.40 M176.85,379.60 L175.75,380.50 L176.85,381.40 M180.50,379.60 L179.40,380.50 L180.50,381.40 M184.15,379.60 L183.05,380.50 L184.15,381.40 M187.80,379.60 L186.70,380.50 L187.80,381.40 M191.45,379.60 L190.35,380.50 L191.45,381.40 M195.10,379.60 L194.00,380.50 L195.10,381.40 M198.75,379.60 L197.65,380.50 L198.75,381.40 M202.40,379.60 L201.30,380.50 L202.40,381.40 M206.05,379.60 L204.95,380.50 L206.05,381.40 M209.70,379.60 L208.60,380.50 L209.70,381.40 M213.35,379.60 L212.25,380.50 L213.35,381.40 M217.00,379.60 L215.90,380.50 L217.00,381.40 M220.65,379.60 L219.55,380.50 L220.65,381.40 M224.30,379.60 L223.20,380.50 L224.30,381.40 M227.95,379.60 L226.85,380.50 L227.95,381.40 M231.60,379.60 L230.50,380.50 L231.60,381.40 M235.25,379.60 L234.15,380.50 L235.25,381.40 M238.90,379.60 L237.80,380.50 L238.90,381.40 M242.55,379.60 L241.45,380.50 L242.55,381.40 M246.20,379.60 L245.10,380.50 L246.20,381.40 M249.85,379.60 L248.75,380.50 L249.85,381.40 M253.50,379.60 L252.40,380.50 L253.50,381.40 M257.15,379.60 L256.05,380.50 L257.15,381.40 M260.80,379.60 L259.70,380.50 L260.80,381.40 M264.45,379.60 L263.35,380.50 L264.45,381.40 M268.10,379.60 L267.00,380.50 L268.10,381.40 M271.75,379.60 L270.65,380.50 L271.75,381.40 M275.40,379.60 L274.30,380.50 L275.40,381.40 M279.05,379.60 L277.95,380.50 L279.05,381.40 M282.70,379.60 L281.60,380.50 L282.70,381.40 M286.35,379.60 L285.25,380.50 L286.35,381.40 M290.00,379.60 L288.90,380.50 L290.00,381.40 M293.65,379.60 L292.55,380.50 L293.65,381.40 M297.30,379.60 L296.20,380.50 L297.30,381.40 M300.95,379.60 L299.85,380.50 L300.95,381.40 M304.60,379.60 L303.50,380.50 L304.60,381.40 M308.25,379.60 L307.15,380.50 L308.25,381.40 M311.90,379.60 L310.80,380.50 L311.90,381.40 M315.55,379.60 L314.45,380.50 L315.55,381.40 M319.20,379.60 L318.10,380.50 L319.20,381.40 M322.85,379.60 L321.75,380.50 L322.85,381.40 M326.50,379.60 L325.40,380.50 L326.50,381.40 M330.15,379.60 L329.05,380.50 L330.15,381.40 M333.80,379.60 L332.70,380.50 L333.80,381.40 M337.45,379.60 L336.35,380.50 L337.45,381.40" fill="none" stroke="#5a5ab0" stroke-width="0.6"/>
<path d="M82.4,380.50 L86.2,377.90 L86.2,383.10 Z M85.6,380.50 L89.2,377.90 L89.2,383.10 Z" fill="none" stroke="#2b2ba0" stroke-width="0.8"/>
<text transform="translate(75.8,419.00) scale(0.93,1)" font-size="12.4" text-anchor="end" fill="#111" font-family='"Liberation Sans", sans-serif'>NT_r1</text>
<rect x="189.00" y="391.15" width="5.20" height="1.95" fill="#7d0a0a" />
<rect x="189.00" y="394.12" width="5.20" height="1.95" fill="#7d0a0a" />
<rect x="198.50" y="391.15" width="5.20" height="1.95" fill="#7d0a0a" />
<rect x="198.50" y="394.12" width="5.20" height="1.95" fill="#7d0a0a" />
<rect x="207.40" y="391.15" width="5.20" height="1.95" fill="#7d0a0a" />
<rect x="208.90" y="394.12" width="5.20" height="1.95" fill="#7d0a0a" />
<rect x="208.90" y="397.08" width="5.20" height="1.95" fill="#7d0a0a" />
<rect x="208.90" y="400.05" width="5.20" height="1.95" fill="#7d0a0a" />
<rect x="208.90" y="403.01" width="5.20" height="1.95" fill="#7d0a0a" />
<rect x="208.90" y="405.98" width="5.20" height="1.95" fill="#7d0a0a" />
<rect x="208.90" y="408.94" width="5.20" height="1.95" fill="#7d0a0a" />
<rect x="209.90" y="411.91" width="5.20" height="1.95" fill="#7d0a0a" />
<rect x="209.90" y="414.87" width="5.20" height="1.95" fill="#7d0a0a" />
<rect x="209.90" y="417.84" width="5.20" height="1.95" fill="#7d0a0a" />
<rect x="209.90" y="420.80" width="5.20" height="1.95" fill="#7d0a0a" />
<rect x="209.90" y="423.77" width="5.20" height="1.95" fill="#7d0a0a" />
<rect x="209.90" y="426.73" width="5.20" height="1.95" fill="#7d0a0a" />
<rect x="209.90" y="429.70" width="5.20" height="1.95" fill="#7d0a0a" />
<rect x="215.50" y="391.15" width="5.20" height="1.95" fill="#0b0b80" />
<rect x="215.50" y="394.12" width="5.20" height="1.95" fill="#0b0b80" />
<rect x="215.50" y="397.08" width="5.20" height="1.95" fill="#0b0b80" />
<rect x="215.50" y="400.05" width="5.20" height="1.95" fill="#0b0b80" />
<rect x="215.50" y="403.01" width="5.20" height="1.95" fill="#0b0b80" />
<rect x="215.50" y="405.98" width="5.20" height="1.95" fill="#0b0b80" />
<rect x="215.50" y="408.94" width="5.20" height="1.95" fill="#0b0b80" />
<rect x="215.50" y="411.91" width="5.20" height="1.95" fill="#0b0b80" />
<rect x="216.50" y="414.87" width="5.20" height="1.95" fill="#0b0b80" />
<rect x="215.50" y="432.66" width="5.20" height="1.95" fill="#0b0b80" />
<rect x="215.50" y="435.62" width="5.20" height="1.95" fill="#0b0b80" />
<rect x="215.50" y="438.59" width="5.20" height="1.95" fill="#0b0b80" />
<rect x="227.90" y="391.15" width="5.20" height="1.95" fill="#0b0b80" />
<rect x="227.90" y="394.12" width="5.20" height="1.95" fill="#0b0b80" />
<rect x="227.90" y="397.08" width="5.20" height="1.95" fill="#0b0b80" />
<rect x="229.80" y="400.05" width="5.20" height="1.95" fill="#0b0b80" />
<rect x="229.80" y="403.01" width="5.20" height="1.95" fill="#0b0b80" />
<rect x="229.80" y="405.98" width="5.20" height="1.95" fill="#0b0b80" />
<rect x="234.90" y="391.15" width="5.20" height="1.95" fill="#7d0a0a" />
<rect x="270.00" y="391.15" width="5.20" height="1.95" fill="#0b0b80" />
<rect x="270.00" y="394.12" width="5.20" height="1.95" fill="#0b0b80" />
<rect x="284.80" y="391.15" width="5.20" height="1.95" fill="#7d0a0a" />
<text transform="translate(75.8,461.00) scale(0.93,1)" font-size="12.4" text-anchor="end" fill="#111" font-family='"Liberation Sans", sans-serif'>NT_r2</text>
<rect x="96.60" y="449.05" width="5.20" height="1.95" fill="#7d0a0a" />
<rect x="96.60" y="452.01" width="5.20" height="1.95" fill="#7d0a0a" />
<rect x="139.20" y="449.05" width="5.20" height="1.95" fill="#0b0b80" />
<rect x="139.70" y="452.01" width="5.20" height="1.95" fill="#0b0b80" />
<rect x="140.30" y="454.98" width="5.20" height="1.95" fill="#0b0b80" />
<rect x="210.30" y="449.05" width="5.20" height="1.95" fill="#7d0a0a" />
<rect x="210.30" y="452.01" width="5.20" height="1.95" fill="#7d0a0a" />
<rect x="210.30" y="454.98" width="5.20" height="1.95" fill="#7d0a0a" />
<rect x="210.50" y="457.94" width="5.20" height="1.95" fill="#7d0a0a" />
<rect x="215.80" y="449.05" width="5.20" height="1.95" fill="#0b0b80" />
<rect x="223.10" y="449.05" width="5.20" height="1.95" fill="#7d0a0a" />
<rect x="221.00" y="452.01" width="5.20" height="1.95" fill="#0b0b80" />
<rect x="221.00" y="454.98" width="5.20" height="1.95" fill="#0b0b80" />
<rect x="214.20" y="460.91" width="5.20" height="1.95" fill="#0b0b80" />
<rect x="215.80" y="463.88" width="5.20" height="1.95" fill="#0b0b80" />
<rect x="215.80" y="466.84" width="5.20" height="1.95" fill="#0b0b80" />
<rect x="215.80" y="469.81" width="5.20" height="1.95" fill="#0b0b80" />
<rect x="297.80" y="449.05" width="5.20" height="1.95" fill="#7d0a0a" />
<text transform="translate(75.8,509.40) scale(0.93,1)" font-size="12.4" text-anchor="end" fill="#111" font-family='"Liberation Sans", sans-serif'>4OHT</text>
<rect x="160.50" y="480.15" width="5.20" height="1.95" fill="#0b0b80" />
<rect x="175.90" y="480.15" width="5.20" height="1.95" fill="#7d0a0a" />
<rect x="209.20" y="480.15" width="5.20" height="1.95" fill="#7d0a0a" />
<rect x="209.20" y="483.12" width="5.20" height="1.95" fill="#7d0a0a" />
<rect x="209.20" y="486.08" width="5.20" height="1.95" fill="#7d0a0a" />
<rect x="210.50" y="489.05" width="5.20" height="1.95" fill="#7d0a0a" />
<rect x="210.50" y="492.01" width="5.20" height="1.95" fill="#7d0a0a" />
<rect x="210.50" y="494.98" width="5.20" height="1.95" fill="#7d0a0a" />
<rect x="210.50" y="497.94" width="5.20" height="1.95" fill="#7d0a0a" />
<rect x="210.50" y="500.91" width="5.20" height="1.95" fill="#7d0a0a" />
<rect x="210.50" y="503.87" width="5.20" height="1.95" fill="#7d0a0a" />
<rect x="215.80" y="480.15" width="5.20" height="1.95" fill="#0b0b80" />
<rect x="215.80" y="483.12" width="5.20" height="1.95" fill="#0b0b80" />
<rect x="215.80" y="486.08" width="5.20" height="1.95" fill="#0b0b80" />
<rect x="215.80" y="489.05" width="5.20" height="1.95" fill="#0b0b80" />
<rect x="216.50" y="492.01" width="5.20" height="1.95" fill="#0b0b80" />
<rect x="214.20" y="506.84" width="5.20" height="1.95" fill="#0b0b80" />
<rect x="214.20" y="509.80" width="5.20" height="1.95" fill="#0b0b80" />
<rect x="215.80" y="512.76" width="5.20" height="1.95" fill="#0b0b80" />
<rect x="215.80" y="515.73" width="5.20" height="1.95" fill="#0b0b80" />
<rect x="215.80" y="518.70" width="5.20" height="1.95" fill="#0b0b80" />
<rect x="215.80" y="521.66" width="5.20" height="1.95" fill="#0b0b80" />
<rect x="215.80" y="524.62" width="5.20" height="1.95" fill="#0b0b80" />
<rect x="215.80" y="527.59" width="5.20" height="1.95" fill="#0b0b80" />
<rect x="215.80" y="530.56" width="5.20" height="1.95" fill="#0b0b80" />
<rect x="215.80" y="533.52" width="5.20" height="1.95" fill="#0b0b80" />
<rect x="215.80" y="536.49" width="5.20" height="1.95" fill="#0b0b80" />
<rect x="215.80" y="539.45" width="5.20" height="1.95" fill="#0b0b80" />
<rect x="231.10" y="480.15" width="5.20" height="1.95" fill="#0b0b80" />
<rect x="251.80" y="480.15" width="5.20" height="1.95" fill="#0b0b80" />
<rect x="262.60" y="480.15" width="5.20" height="1.95" fill="#0b0b80" />
<rect x="262.60" y="483.12" width="5.20" height="1.95" fill="#0b0b80" />
<rect x="334.20" y="480.15" width="5.20" height="1.95" fill="#0b0b80" />
<rect x="334.20" y="483.12" width="5.20" height="1.95" fill="#0b0b80" />
<rect x="334.20" y="486.08" width="5.20" height="1.95" fill="#0b0b80" />
<text transform="translate(0.30,569.20) scale(0.9,1)" font-size="15.3" font-weight="bold" fill="#000" font-family='"Liberation Sans", sans-serif'>d</text>
<line x1="22.30" y1="560.40" x2="343.50" y2="560.40" stroke="#a4a4a4" stroke-width="1.1" />
<line x1="22.30" y1="560.40" x2="22.30" y2="708.00" stroke="#8c8c8c" stroke-width="1.1" />
<line x1="343.50" y1="559.90" x2="343.50" y2="708.50" stroke="#555" stroke-width="1.1" />
<line x1="21.80" y1="708.00" x2="344.00" y2="708.00" stroke="#4c4c4c" stroke-width="1.1" />
<rect x="23.90" y="562.30" width="7.00" height="15.20" fill="#cdcdcd" />
<line x1="30.60" y1="562.30" x2="30.60" y2="577.50" stroke="#a9a9a9" stroke-width="0.8" />
<line x1="23.90" y1="577.20" x2="30.90" y2="577.20" stroke="#8a8a8a" stroke-width="0.9" />
<rect x="23.90" y="578.80" width="7.00" height="5.70" fill="#cdcdcd" />
<line x1="30.60" y1="578.80" x2="30.60" y2="584.50" stroke="#a9a9a9" stroke-width="0.8" />
<line x1="23.90" y1="584.20" x2="30.90" y2="584.20" stroke="#8a8a8a" stroke-width="0.9" />
<rect x="23.90" y="586.00" width="7.00" height="52.80" fill="#cdcdcd" />
<line x1="30.60" y1="586.00" x2="30.60" y2="638.80" stroke="#a9a9a9" stroke-width="0.8" />
<line x1="23.90" y1="638.50" x2="30.90" y2="638.50" stroke="#8a8a8a" stroke-width="0.9" />
<rect x="23.90" y="640.70" width="7.00" height="29.30" fill="#cdcdcd" />
<line x1="30.60" y1="640.70" x2="30.60" y2="670.00" stroke="#a9a9a9" stroke-width="0.8" />
<line x1="23.90" y1="669.70" x2="30.90" y2="669.70" stroke="#8a8a8a" stroke-width="0.9" />
<rect x="23.90" y="671.80" width="7.00" height="35.20" fill="#cdcdcd" />
<line x1="30.60" y1="671.80" x2="30.60" y2="707.00" stroke="#a9a9a9" stroke-width="0.8" />
<line x1="23.90" y1="706.70" x2="30.90" y2="706.70" stroke="#8a8a8a" stroke-width="0.9" />
<line x1="80.50" y1="561.00" x2="80.50" y2="707.40" stroke="#f2b4b4" stroke-width="0.9" />
<text x="83.60" y="578.00" font-size="11.6" text-anchor="end" fill="#111" font-weight="normal" font-family='"Liberation Sans", sans-serif' >chr1:</text>
<line x1="92.40" y1="570.80" x2="92.40" y2="576.80" stroke="#444" stroke-width="0.8" />
<text x="95.70" y="578.00" font-size="10.9" text-anchor="start" fill="#111" font-weight="normal" font-family='"Liberation Sans", sans-serif' >206,084,000</text>
<line x1="235.50" y1="570.80" x2="235.50" y2="576.80" stroke="#444" stroke-width="0.8" />
<text x="239.20" y="578.00" font-size="10.9" text-anchor="start" fill="#111" font-weight="normal" font-family='"Liberation Sans", sans-serif' >206,085,000</text>
<text transform="translate(75.8,613.60) scale(0.93,1)" font-size="12.4" text-anchor="end" fill="#111" font-family='"Liberation Sans", sans-serif'>NT_r1</text>
<rect x="85.50" y="592.05" width="5.20" height="1.95" fill="#7d0a0a" />
<rect x="97.30" y="592.05" width="5.20" height="1.95" fill="#0b0b80" />
<rect x="118.00" y="592.05" width="5.20" height="1.95" fill="#0b0b80" />
<rect x="118.00" y="595.01" width="5.20" height="1.95" fill="#0b0b80" />
<rect x="124.90" y="592.05" width="5.20" height="1.95" fill="#7d0a0a" />
<rect x="128.30" y="595.01" width="5.20" height="1.95" fill="#7d0a0a" />
<rect x="128.30" y="597.98" width="5.20" height="1.95" fill="#7d0a0a" />
<rect x="135.80" y="592.05" width="5.20" height="1.95" fill="#7d0a0a" />
<rect x="136.80" y="595.01" width="5.20" height="1.95" fill="#0b0b80" />
<rect x="143.10" y="592.05" width="5.20" height="1.95" fill="#7d0a0a" />
<rect x="143.10" y="595.01" width="5.20" height="1.95" fill="#7d0a0a" />
<rect x="145.00" y="597.98" width="5.20" height="1.95" fill="#0b0b80" />
<rect x="150.00" y="600.94" width="5.20" height="1.95" fill="#0b0b80" />
<rect x="156.90" y="592.05" width="5.20" height="1.95" fill="#7d0a0a" />
<rect x="162.80" y="592.05" width="5.20" height="1.95" fill="#7d0a0a" />
<rect x="170.60" y="592.05" width="5.20" height="1.95" fill="#7d0a0a" />
<rect x="167.50" y="595.01" width="5.20" height="1.95" fill="#7d0a0a" />
<rect x="167.50" y="597.98" width="5.20" height="1.95" fill="#7d0a0a" />
<rect x="167.50" y="600.94" width="5.20" height="1.95" fill="#7d0a0a" />
<rect x="167.50" y="603.91" width="5.20" height="1.95" fill="#7d0a0a" />
<rect x="170.60" y="606.88" width="5.20" height="1.95" fill="#7d0a0a" />
<rect x="170.60" y="609.84" width="5.20" height="1.95" fill="#7d0a0a" />
<rect x="170.60" y="612.80" width="5.20" height="1.95" fill="#7d0a0a" />
<rect x="170.60" y="615.77" width="5.20" height="1.95" fill="#7d0a0a" />
<rect x="170.60" y="618.73" width="5.20" height="1.95" fill="#7d0a0a" />
<rect x="170.60" y="621.70" width="5.20" height="1.95" fill="#7d0a0a" />
<rect x="176.10" y="595.01" width="5.20" height="1.95" fill="#0b0b80" />
<rect x="176.10" y="597.98" width="5.20" height="1.95" fill="#0b0b80" />
<rect x="176.10" y="600.94" width="5.20" height="1.95" fill="#0b0b80" />
<rect x="177.10" y="603.91" width="5.20" height="1.95" fill="#0b0b80" />
<rect x="178.90" y="606.88" width="5.20" height="1.95" fill="#0b0b80" />
<rect x="178.90" y="609.84" width="5.20" height="1.95" fill="#0b0b80" />
<rect x="177.10" y="612.80" width="5.20" height="1.95" fill="#0b0b80" />
<rect x="177.10" y="615.77" width="5.20" height="1.95" fill="#0b0b80" />
<rect x="177.10" y="618.73" width="5.20" height="1.95" fill="#0b0b80" />
<rect x="177.10" y="621.70" width="5.20" height="1.95" fill="#0b0b80" />
<rect x="180.90" y="592.05" width="5.20" height="1.95" fill="#7d0a0a" />
<rect x="185.00" y="595.01" width="5.20" height="1.95" fill="#0b0b80" />
<rect x="185.00" y="597.98" width="5.20" height="1.95" fill="#0b0b80" />
<rect x="189.00" y="600.94" width="5.20" height="1.95" fill="#0b0b80" />
<rect x="191.20" y="603.91" width="5.20" height="1.95" fill="#0b0b80" />
<rect x="191.20" y="606.88" width="5.20" height="1.95" fill="#0b0b80" />
<rect x="191.20" y="609.84" width="5.20" height="1.95" fill="#0b0b80" />
<rect x="188.80" y="592.05" width="5.20" height="1.95" fill="#0b0b80" />
<rect x="199.80" y="592.05" width="5.20" height="1.95" fill="#7d0a0a" />
<rect x="212.70" y="592.05" width="5.20" height="1.95" fill="#0b0b80" />
<rect x="212.70" y="595.01" width="5.20" height="1.95" fill="#0b0b80" />
<rect x="164.70" y="624.66" width="5.20" height="1.95" fill="#0b0b80" />
<rect x="164.70" y="627.63" width="5.20" height="1.95" fill="#0b0b80" />
<rect x="174.20" y="624.66" width="5.20" height="1.95" fill="#0b0b80" />
<rect x="174.20" y="627.63" width="5.20" height="1.95" fill="#0b0b80" />
<rect x="177.20" y="630.59" width="5.20" height="1.95" fill="#0b0b80" />
<rect x="177.20" y="633.56" width="5.20" height="1.95" fill="#0b0b80" />
<rect x="177.20" y="636.52" width="5.20" height="1.95" fill="#0b0b80" />
<rect x="228.20" y="592.05" width="5.20" height="1.95" fill="#7d0a0a" />
<rect x="228.20" y="595.01" width="5.20" height="1.95" fill="#7d0a0a" />
<rect x="226.90" y="597.98" width="5.20" height="1.95" fill="#0b0b80" />
<rect x="226.90" y="600.94" width="5.20" height="1.95" fill="#0b0b80" />
<rect x="226.90" y="603.91" width="5.20" height="1.95" fill="#0b0b80" />
<rect x="240.60" y="592.05" width="5.20" height="1.95" fill="#7d0a0a" />
<rect x="240.60" y="595.01" width="5.20" height="1.95" fill="#7d0a0a" />
<rect x="239.80" y="597.98" width="5.20" height="1.95" fill="#0b0b80" />
<rect x="239.80" y="600.94" width="5.20" height="1.95" fill="#0b0b80" />
<rect x="264.60" y="592.05" width="5.20" height="1.95" fill="#0b0b80" />
<rect x="264.60" y="595.01" width="5.20" height="1.95" fill="#0b0b80" />
<rect x="282.60" y="592.05" width="5.20" height="1.95" fill="#7d0a0a" />
<rect x="282.60" y="595.01" width="5.20" height="1.95" fill="#7d0a0a" />
<rect x="313.70" y="592.05" width="5.20" height="1.95" fill="#0b0b80" />
<text transform="translate(75.8,655.90) scale(0.93,1)" font-size="12.4" text-anchor="end" fill="#111" font-family='"Liberation Sans", sans-serif'>NT_r2</text>
<rect x="95.80" y="646.75" width="5.20" height="1.95" fill="#7d0a0a" />
<rect x="95.80" y="649.72" width="5.20" height="1.95" fill="#7d0a0a" />
<rect x="118.00" y="646.75" width="5.20" height="1.95" fill="#0b0b80" />
<rect x="149.60" y="646.75" width="5.20" height="1.95" fill="#0b0b80" />
<rect x="149.60" y="649.72" width="5.20" height="1.95" fill="#0b0b80" />
<rect x="162.80" y="646.75" width="5.20" height="1.95" fill="#0b0b80" />
<rect x="170.30" y="646.75" width="5.20" height="1.95" fill="#7d0a0a" />
<rect x="170.30" y="649.72" width="5.20" height="1.95" fill="#7d0a0a" />
<rect x="170.30" y="652.68" width="5.20" height="1.95" fill="#7d0a0a" />
<rect x="170.30" y="655.64" width="5.20" height="1.95" fill="#7d0a0a" />
<rect x="177.00" y="646.75" width="5.20" height="1.95" fill="#0b0b80" />
<rect x="177.00" y="649.72" width="5.20" height="1.95" fill="#0b0b80" />
<rect x="177.00" y="652.68" width="5.20" height="1.95" fill="#0b0b80" />
<rect x="173.60" y="658.61" width="5.20" height="1.95" fill="#0b0b80" />
<rect x="173.60" y="661.58" width="5.20" height="1.95" fill="#0b0b80" />
<rect x="173.60" y="664.54" width="5.20" height="1.95" fill="#0b0b80" />
<rect x="173.60" y="667.50" width="5.20" height="1.95" fill="#0b0b80" />
<rect x="193.30" y="646.75" width="5.20" height="1.95" fill="#0b0b80" />
<rect x="259.70" y="646.75" width="5.20" height="1.95" fill="#7d0a0a" />
<rect x="259.70" y="649.72" width="5.20" height="1.95" fill="#7d0a0a" />
<text transform="translate(75.8,695.70) scale(0.93,1)" font-size="12.4" text-anchor="end" fill="#111" font-family='"Liberation Sans", sans-serif'>4OHT</text>
<rect x="120.80" y="677.65" width="5.20" height="1.95" fill="#0b0b80" />
<rect x="144.60" y="677.65" width="5.20" height="1.95" fill="#7d0a0a" />
<rect x="144.60" y="680.62" width="5.20" height="1.95" fill="#7d0a0a" />
<rect x="159.30" y="677.65" width="5.20" height="1.95" fill="#7d0a0a" />
<rect x="159.30" y="680.62" width="5.20" height="1.95" fill="#7d0a0a" />
<rect x="162.70" y="683.58" width="5.20" height="1.95" fill="#7d0a0a" />
<rect x="162.70" y="686.54" width="5.20" height="1.95" fill="#7d0a0a" />
<rect x="168.10" y="677.65" width="5.20" height="1.95" fill="#7d0a0a" />
<rect x="169.90" y="680.62" width="5.20" height="1.95" fill="#7d0a0a" />
<rect x="170.60" y="683.58" width="5.20" height="1.95" fill="#7d0a0a" />
<rect x="175.70" y="677.65" width="5.20" height="1.95" fill="#0b0b80" />
<rect x="180.10" y="680.62" width="5.20" height="1.95" fill="#0b0b80" />
<rect x="180.10" y="683.58" width="5.20" height="1.95" fill="#0b0b80" />
<rect x="177.20" y="686.54" width="5.20" height="1.95" fill="#0b0b80" />
<rect x="177.20" y="689.51" width="5.20" height="1.95" fill="#0b0b80" />
<rect x="182.30" y="677.65" width="5.20" height="1.95" fill="#7d0a0a" />
<rect x="182.30" y="686.54" width="5.20" height="1.95" fill="#7d0a0a" />
<rect x="182.30" y="689.51" width="5.20" height="1.95" fill="#7d0a0a" />
<rect x="182.30" y="692.48" width="5.20" height="1.95" fill="#7d0a0a" />
<rect x="182.30" y="695.44" width="5.20" height="1.95" fill="#7d0a0a" />
<rect x="182.30" y="698.40" width="5.20" height="1.95" fill="#7d0a0a" />
<rect x="182.30" y="701.37" width="5.20" height="1.95" fill="#7d0a0a" />
<rect x="182.30" y="704.33" width="5.20" height="1.95" fill="#7d0a0a" />
<rect x="191.00" y="677.65" width="5.20" height="1.95" fill="#0b0b80" />
<rect x="189.60" y="680.62" width="5.20" height="1.95" fill="#0b0b80" />
<rect x="189.60" y="683.58" width="5.20" height="1.95" fill="#0b0b80" />
<rect x="191.50" y="686.54" width="5.20" height="1.95" fill="#0b0b80" />
<rect x="191.50" y="689.51" width="5.20" height="1.95" fill="#0b0b80" />
<rect x="191.50" y="692.48" width="5.20" height="1.95" fill="#0b0b80" />
<rect x="198.80" y="677.65" width="5.20" height="1.95" fill="#7d0a0a" />
<rect x="196.40" y="680.62" width="5.20" height="1.95" fill="#0b0b80" />
<rect x="196.40" y="683.58" width="5.20" height="1.95" fill="#0b0b80" />
<rect x="199.30" y="686.54" width="5.20" height="1.95" fill="#7d0a0a" />
<rect x="199.30" y="689.51" width="5.20" height="1.95" fill="#7d0a0a" />
<rect x="199.30" y="692.48" width="5.20" height="1.95" fill="#7d0a0a" />
<rect x="196.40" y="695.44" width="5.20" height="1.95" fill="#0b0b80" />
<rect x="201.20" y="698.40" width="5.20" height="1.95" fill="#0b0b80" />
<rect x="210.00" y="677.65" width="5.20" height="1.95" fill="#7d0a0a" />
<rect x="210.00" y="680.62" width="5.20" height="1.95" fill="#7d0a0a" />
<rect x="217.00" y="677.65" width="5.20" height="1.95" fill="#0b0b80" />
<rect x="237.70" y="677.65" width="5.20" height="1.95" fill="#7d0a0a" />
<rect x="237.70" y="680.62" width="5.20" height="1.95" fill="#7d0a0a" />
<rect x="259.70" y="677.65" width="5.20" height="1.95" fill="#7d0a0a" />
<rect x="259.70" y="680.62" width="5.20" height="1.95" fill="#7d0a0a" />
<rect x="259.70" y="683.58" width="5.20" height="1.95" fill="#7d0a0a" />
<rect x="273.70" y="677.65" width="5.20" height="1.95" fill="#7d0a0a" />
<rect x="291.40" y="677.65" width="5.20" height="1.95" fill="#0b0b80" />
<text transform="translate(-0.70,737.90) scale(0.9,1)" font-size="15.3" font-weight="bold" fill="#000" font-family='"Liberation Sans", sans-serif'>e</text>
<line x1="22.30" y1="732.80" x2="343.50" y2="732.80" stroke="#a4a4a4" stroke-width="1.1" />
<line x1="22.30" y1="732.80" x2="22.30" y2="924.00" stroke="#8c8c8c" stroke-width="1.1" />
<line x1="343.50" y1="732.30" x2="343.50" y2="924.50" stroke="#555" stroke-width="1.1" />
<line x1="21.80" y1="924.00" x2="344.00" y2="924.00" stroke="#4c4c4c" stroke-width="1.1" />
<rect x="23.90" y="734.00" width="7.00" height="15.70" fill="#cdcdcd" />
<line x1="30.60" y1="734.00" x2="30.60" y2="749.70" stroke="#a9a9a9" stroke-width="0.8" />
<line x1="23.90" y1="749.40" x2="30.90" y2="749.40" stroke="#8a8a8a" stroke-width="0.9" />
<rect x="23.90" y="751.20" width="7.00" height="5.10" fill="#cdcdcd" />
<line x1="30.60" y1="751.20" x2="30.60" y2="756.30" stroke="#a9a9a9" stroke-width="0.8" />
<line x1="23.90" y1="756.00" x2="30.90" y2="756.00" stroke="#8a8a8a" stroke-width="0.9" />
<rect x="23.90" y="757.60" width="7.00" height="82.20" fill="#cdcdcd" />
<line x1="30.60" y1="757.60" x2="30.60" y2="839.80" stroke="#a9a9a9" stroke-width="0.8" />
<line x1="23.90" y1="839.50" x2="30.90" y2="839.50" stroke="#8a8a8a" stroke-width="0.9" />
<rect x="23.90" y="841.70" width="7.00" height="37.00" fill="#cdcdcd" />
<line x1="30.60" y1="841.70" x2="30.60" y2="878.70" stroke="#a9a9a9" stroke-width="0.8" />
<line x1="23.90" y1="878.40" x2="30.90" y2="878.40" stroke="#8a8a8a" stroke-width="0.9" />
<rect x="23.90" y="880.20" width="7.00" height="42.50" fill="#cdcdcd" />
<line x1="30.60" y1="880.20" x2="30.60" y2="922.70" stroke="#a9a9a9" stroke-width="0.8" />
<line x1="23.90" y1="922.40" x2="30.90" y2="922.40" stroke="#8a8a8a" stroke-width="0.9" />
<line x1="80.50" y1="733.40" x2="80.50" y2="923.40" stroke="#f2b4b4" stroke-width="0.9" />
<text x="83.60" y="749.90" font-size="11.6" text-anchor="end" fill="#111" font-weight="normal" font-family='"Liberation Sans", sans-serif' >chr1:</text>
<line x1="128.40" y1="742.70" x2="128.40" y2="748.50" stroke="#444" stroke-width="0.8" />
<text x="130.40" y="749.90" font-size="10.9" text-anchor="start" fill="#111" font-weight="normal" font-family='"Liberation Sans", sans-serif' >165,950,500</text>
<line x1="272.60" y1="742.70" x2="272.60" y2="748.50" stroke="#444" stroke-width="0.8" />
<text x="274.60" y="749.90" font-size="10.9" text-anchor="start" fill="#111" font-weight="normal" font-family='"Liberation Sans", sans-serif' >165,951,500</text>
<text transform="translate(75.8,807.60) scale(0.93,1)" font-size="12.4" text-anchor="end" fill="#111" font-family='"Liberation Sans", sans-serif'>NT_r1</text>
<rect x="126.90" y="763.95" width="5.20" height="1.95" fill="#0b0b80" />
<rect x="142.50" y="763.95" width="5.20" height="1.95" fill="#7d0a0a" />
<rect x="142.50" y="766.91" width="5.20" height="1.95" fill="#7d0a0a" />
<rect x="149.10" y="763.95" width="5.20" height="1.95" fill="#7d0a0a" />
<rect x="149.10" y="766.91" width="5.20" height="1.95" fill="#7d0a0a" />
<rect x="149.10" y="769.88" width="5.20" height="1.95" fill="#7d0a0a" />
<rect x="149.10" y="772.84" width="5.20" height="1.95" fill="#7d0a0a" />
<rect x="149.10" y="775.81" width="5.20" height="1.95" fill="#7d0a0a" />
<rect x="147.60" y="778.77" width="5.20" height="1.95" fill="#0b0b80" />
<rect x="147.60" y="781.74" width="5.20" height="1.95" fill="#0b0b80" />
<rect x="158.70" y="763.95" width="5.20" height="1.95" fill="#7d0a0a" />
<rect x="158.70" y="766.91" width="5.20" height="1.95" fill="#7d0a0a" />
<rect x="162.10" y="769.88" width="5.20" height="1.95" fill="#7d0a0a" />
<rect x="162.10" y="772.84" width="5.20" height="1.95" fill="#7d0a0a" />
<rect x="173.60" y="763.95" width="5.20" height="1.95" fill="#7d0a0a" />
<rect x="175.00" y="766.91" width="5.20" height="1.95" fill="#7d0a0a" />
<rect x="180.30" y="769.88" width="5.20" height="1.95" fill="#7d0a0a" />
<rect x="180.30" y="772.84" width="5.20" height="1.95" fill="#7d0a0a" />
<rect x="181.20" y="775.81" width="5.20" height="1.95" fill="#7d0a0a" />
<rect x="181.20" y="778.77" width="5.20" height="1.95" fill="#7d0a0a" />
<rect x="178.80" y="781.74" width="5.20" height="1.95" fill="#0b0b80" />
<rect x="184.90" y="763.95" width="5.20" height="1.95" fill="#7d0a0a" />
<rect x="187.10" y="766.91" width="5.20" height="1.95" fill="#7d0a0a" />
<rect x="188.00" y="769.88" width="5.20" height="1.95" fill="#7d0a0a" />
<rect x="190.10" y="772.84" width="5.20" height="1.95" fill="#7d0a0a" />
<rect x="190.10" y="775.81" width="5.20" height="1.95" fill="#7d0a0a" />
<rect x="190.10" y="778.77" width="5.20" height="1.95" fill="#7d0a0a" />
<rect x="187.10" y="781.74" width="5.20" height="1.95" fill="#7d0a0a" />
<rect x="187.10" y="784.70" width="5.20" height="1.95" fill="#7d0a0a" />
<rect x="187.10" y="787.67" width="5.20" height="1.95" fill="#7d0a0a" />
<rect x="187.10" y="790.63" width="5.20" height="1.95" fill="#7d0a0a" />
<rect x="187.10" y="793.60" width="5.20" height="1.95" fill="#7d0a0a" />
<rect x="187.10" y="796.56" width="5.20" height="1.95" fill="#7d0a0a" />
<rect x="187.10" y="799.53" width="5.20" height="1.95" fill="#7d0a0a" />
<rect x="187.10" y="802.49" width="5.20" height="1.95" fill="#7d0a0a" />
<rect x="192.10" y="763.95" width="5.20" height="1.95" fill="#7d0a0a" />
<rect x="194.30" y="766.91" width="5.20" height="1.95" fill="#0b0b80" />
<rect x="190.20" y="805.46" width="5.20" height="1.95" fill="#7d0a0a" />
<rect x="190.20" y="808.42" width="5.20" height="1.95" fill="#7d0a0a" />
<rect x="192.20" y="811.39" width="5.20" height="1.95" fill="#7d0a0a" />
<rect x="192.20" y="814.35" width="5.20" height="1.95" fill="#7d0a0a" />
<rect x="179.50" y="805.46" width="5.20" height="1.95" fill="#0b0b80" />
<rect x="179.50" y="808.42" width="5.20" height="1.95" fill="#0b0b80" />
<rect x="181.80" y="811.39" width="5.20" height="1.95" fill="#0b0b80" />
<rect x="184.00" y="814.35" width="5.20" height="1.95" fill="#0b0b80" />
<rect x="187.60" y="817.32" width="5.20" height="1.95" fill="#0b0b80" />
<rect x="187.60" y="820.28" width="5.20" height="1.95" fill="#0b0b80" />
<rect x="192.20" y="823.25" width="5.20" height="1.95" fill="#0b0b80" />
<rect x="192.20" y="826.21" width="5.20" height="1.95" fill="#0b0b80" />
<rect x="192.20" y="829.18" width="5.20" height="1.95" fill="#0b0b80" />
<rect x="192.20" y="832.14" width="5.20" height="1.95" fill="#0b0b80" />
<rect x="192.20" y="835.11" width="5.20" height="1.95" fill="#0b0b80" />
<rect x="193.00" y="838.07" width="5.20" height="1.95" fill="#0b0b80" />
<rect x="210.70" y="763.95" width="5.20" height="1.95" fill="#7d0a0a" />
<rect x="210.70" y="766.91" width="5.20" height="1.95" fill="#7d0a0a" />
<rect x="210.70" y="769.88" width="5.20" height="1.95" fill="#7d0a0a" />
<rect x="210.70" y="772.84" width="5.20" height="1.95" fill="#7d0a0a" />
<rect x="210.70" y="775.81" width="5.20" height="1.95" fill="#7d0a0a" />
<rect x="210.70" y="778.77" width="5.20" height="1.95" fill="#7d0a0a" />
<rect x="212.80" y="781.74" width="5.20" height="1.95" fill="#7d0a0a" />
<rect x="212.80" y="784.70" width="5.20" height="1.95" fill="#7d0a0a" />
<rect x="212.80" y="787.67" width="5.20" height="1.95" fill="#7d0a0a" />
<rect x="212.80" y="790.63" width="5.20" height="1.95" fill="#7d0a0a" />
<rect x="214.80" y="793.60" width="5.20" height="1.95" fill="#7d0a0a" />
<rect x="224.40" y="763.95" width="5.20" height="1.95" fill="#7d0a0a" />
<rect x="224.40" y="766.91" width="5.20" height="1.95" fill="#7d0a0a" />
<rect x="240.80" y="763.95" width="5.20" height="1.95" fill="#7d0a0a" />
<rect x="236.00" y="766.91" width="5.20" height="1.95" fill="#0b0b80" />
<rect x="247.50" y="763.95" width="5.20" height="1.95" fill="#7d0a0a" />
<rect x="245.90" y="766.91" width="5.20" height="1.95" fill="#7d0a0a" />
<rect x="241.40" y="769.88" width="5.20" height="1.95" fill="#0b0b80" />
<rect x="241.40" y="772.84" width="5.20" height="1.95" fill="#0b0b80" />
<rect x="250.00" y="769.88" width="5.20" height="1.95" fill="#7d0a0a" />
<rect x="250.00" y="772.84" width="5.20" height="1.95" fill="#7d0a0a" />
<rect x="253.00" y="775.81" width="5.20" height="1.95" fill="#7d0a0a" />
<rect x="251.60" y="778.77" width="5.20" height="1.95" fill="#0b0b80" />
<rect x="258.50" y="763.95" width="5.20" height="1.95" fill="#0b0b80" />
<rect x="259.20" y="769.88" width="5.20" height="1.95" fill="#0b0b80" />
<rect x="260.60" y="772.84" width="5.20" height="1.95" fill="#0b0b80" />
<rect x="270.00" y="763.95" width="5.20" height="1.95" fill="#0b0b80" />
<rect x="276.50" y="763.95" width="5.20" height="1.95" fill="#7d0a0a" />
<rect x="274.50" y="766.91" width="5.20" height="1.95" fill="#0b0b80" />
<rect x="274.50" y="769.88" width="5.20" height="1.95" fill="#0b0b80" />
<rect x="280.20" y="766.91" width="5.20" height="1.95" fill="#0b0b80" />
<rect x="303.50" y="763.95" width="5.20" height="1.95" fill="#7d0a0a" />
<rect x="303.50" y="766.91" width="5.20" height="1.95" fill="#7d0a0a" />
<rect x="313.70" y="763.95" width="5.20" height="1.95" fill="#0b0b80" />
<rect x="313.70" y="766.91" width="5.20" height="1.95" fill="#0b0b80" />
<text transform="translate(75.8,865.00) scale(0.93,1)" font-size="12.4" text-anchor="end" fill="#111" font-family='"Liberation Sans", sans-serif'>NT_r2</text>
<rect x="133.80" y="847.55" width="5.20" height="1.95" fill="#7d0a0a" />
<rect x="144.00" y="847.55" width="5.20" height="1.95" fill="#7d0a0a" />
<rect x="144.00" y="850.51" width="5.20" height="1.95" fill="#7d0a0a" />
<rect x="149.90" y="853.48" width="5.20" height="1.95" fill="#0b0b80" />
<rect x="158.70" y="847.55" width="5.20" height="1.95" fill="#7d0a0a" />
<rect x="158.70" y="850.51" width="5.20" height="1.95" fill="#7d0a0a" />
<rect x="158.70" y="853.48" width="5.20" height="1.95" fill="#7d0a0a" />
<rect x="158.70" y="856.44" width="5.20" height="1.95" fill="#7d0a0a" />
<rect x="158.70" y="859.41" width="5.20" height="1.95" fill="#7d0a0a" />
<rect x="158.70" y="862.38" width="5.20" height="1.95" fill="#7d0a0a" />
<rect x="158.70" y="865.34" width="5.20" height="1.95" fill="#7d0a0a" />
<rect x="173.20" y="847.55" width="5.20" height="1.95" fill="#7d0a0a" />
<rect x="173.20" y="850.51" width="5.20" height="1.95" fill="#7d0a0a" />
<rect x="184.80" y="847.55" width="5.20" height="1.95" fill="#7d0a0a" />
<rect x="184.80" y="850.51" width="5.20" height="1.95" fill="#7d0a0a" />
<rect x="184.80" y="853.48" width="5.20" height="1.95" fill="#7d0a0a" />
<rect x="187.40" y="856.44" width="5.20" height="1.95" fill="#7d0a0a" />
<rect x="187.40" y="859.41" width="5.20" height="1.95" fill="#7d0a0a" />
<rect x="187.40" y="862.38" width="5.20" height="1.95" fill="#7d0a0a" />
<rect x="187.40" y="865.34" width="5.20" height="1.95" fill="#7d0a0a" />
<rect x="194.60" y="847.55" width="5.20" height="1.95" fill="#7d0a0a" />
<rect x="194.60" y="850.51" width="5.20" height="1.95" fill="#7d0a0a" />
<rect x="194.60" y="853.48" width="5.20" height="1.95" fill="#7d0a0a" />
<rect x="194.60" y="856.44" width="5.20" height="1.95" fill="#7d0a0a" />
<rect x="194.60" y="859.41" width="5.20" height="1.95" fill="#7d0a0a" />
<rect x="194.60" y="862.38" width="5.20" height="1.95" fill="#7d0a0a" />
<rect x="198.10" y="865.34" width="5.20" height="1.95" fill="#0b0b80" />
<rect x="198.10" y="868.30" width="5.20" height="1.95" fill="#0b0b80" />
<rect x="183.30" y="868.30" width="5.20" height="1.95" fill="#0b0b80" />
<rect x="183.30" y="871.27" width="5.20" height="1.95" fill="#0b0b80" />
<rect x="183.30" y="874.23" width="5.20" height="1.95" fill="#0b0b80" />
<rect x="188.90" y="877.20" width="5.20" height="1.95" fill="#0b0b80" />
<rect x="207.40" y="847.55" width="5.20" height="1.95" fill="#7d0a0a" />
<rect x="208.60" y="850.51" width="5.20" height="1.95" fill="#7d0a0a" />
<rect x="216.20" y="847.55" width="5.20" height="1.95" fill="#7d0a0a" />
<rect x="216.20" y="850.51" width="5.20" height="1.95" fill="#7d0a0a" />
<rect x="216.20" y="853.48" width="5.20" height="1.95" fill="#7d0a0a" />
<rect x="218.30" y="856.44" width="5.20" height="1.95" fill="#7d0a0a" />
<rect x="254.00" y="847.55" width="5.20" height="1.95" fill="#0b0b80" />
<rect x="254.00" y="850.51" width="5.20" height="1.95" fill="#0b0b80" />
<rect x="259.80" y="853.48" width="5.20" height="1.95" fill="#0b0b80" />
<rect x="259.80" y="856.44" width="5.20" height="1.95" fill="#0b0b80" />
<rect x="285.30" y="847.55" width="5.20" height="1.95" fill="#0b0b80" />
<rect x="285.30" y="850.51" width="5.20" height="1.95" fill="#0b0b80" />
<rect x="290.80" y="847.55" width="5.20" height="1.95" fill="#0b0b80" />
<rect x="286.70" y="853.48" width="5.20" height="1.95" fill="#0b0b80" />
<rect x="291.90" y="856.44" width="5.20" height="1.95" fill="#0b0b80" />
<text transform="translate(75.8,906.40) scale(0.93,1)" font-size="12.4" text-anchor="end" fill="#111" font-family='"Liberation Sans", sans-serif'>4OHT</text>
<rect x="130.70" y="886.55" width="5.20" height="1.95" fill="#7d0a0a" />
<rect x="137.30" y="886.55" width="5.20" height="1.95" fill="#0b0b80" />
<rect x="137.30" y="889.51" width="5.20" height="1.95" fill="#0b0b80" />
<rect x="149.10" y="886.55" width="5.20" height="1.95" fill="#7d0a0a" />
<rect x="161.80" y="886.55" width="5.20" height="1.95" fill="#7d0a0a" />
<rect x="165.20" y="889.51" width="5.20" height="1.95" fill="#0b0b80" />
<rect x="165.20" y="892.48" width="5.20" height="1.95" fill="#0b0b80" />
<rect x="169.00" y="895.44" width="5.20" height="1.95" fill="#0b0b80" />
<rect x="169.00" y="898.41" width="5.20" height="1.95" fill="#0b0b80" />
<rect x="173.20" y="886.55" width="5.20" height="1.95" fill="#7d0a0a" />
<rect x="173.20" y="889.51" width="5.20" height="1.95" fill="#7d0a0a" />
<rect x="180.20" y="886.55" width="5.20" height="1.95" fill="#0b0b80" />
<rect x="180.20" y="892.48" width="5.20" height="1.95" fill="#7d0a0a" />
<rect x="185.40" y="889.51" width="5.20" height="1.95" fill="#0b0b80" />
<rect x="185.90" y="895.44" width="5.20" height="1.95" fill="#0b0b80" />
<rect x="185.90" y="898.41" width="5.20" height="1.95" fill="#0b0b80" />
<rect x="186.60" y="901.38" width="5.20" height="1.95" fill="#7d0a0a" />
<rect x="186.60" y="904.34" width="5.20" height="1.95" fill="#7d0a0a" />
<rect x="186.60" y="907.30" width="5.20" height="1.95" fill="#7d0a0a" />
<rect x="186.60" y="910.27" width="5.20" height="1.95" fill="#7d0a0a" />
<rect x="192.00" y="913.23" width="5.20" height="1.95" fill="#0b0b80" />
<rect x="192.00" y="916.20" width="5.20" height="1.95" fill="#0b0b80" />
<rect x="190.00" y="886.55" width="5.20" height="1.95" fill="#7d0a0a" />
<rect x="192.00" y="892.48" width="5.20" height="1.95" fill="#0b0b80" />
<rect x="195.00" y="889.51" width="5.20" height="1.95" fill="#0b0b80" />
<rect x="195.00" y="895.44" width="5.20" height="1.95" fill="#0b0b80" />
<rect x="195.00" y="898.41" width="5.20" height="1.95" fill="#0b0b80" />
<rect x="195.00" y="901.38" width="5.20" height="1.95" fill="#7d0a0a" />
<rect x="195.00" y="904.34" width="5.20" height="1.95" fill="#7d0a0a" />
<rect x="200.10" y="886.55" width="5.20" height="1.95" fill="#0b0b80" />
<rect x="203.50" y="889.51" width="5.20" height="1.95" fill="#0b0b80" />
<rect x="205.80" y="892.48" width="5.20" height="1.95" fill="#0b0b80" />
<rect x="205.80" y="895.44" width="5.20" height="1.95" fill="#0b0b80" />
<rect x="212.80" y="886.55" width="5.20" height="1.95" fill="#7d0a0a" />
<rect x="212.80" y="889.51" width="5.20" height="1.95" fill="#7d0a0a" />
<rect x="212.80" y="892.48" width="5.20" height="1.95" fill="#7d0a0a" />
<rect x="212.80" y="895.44" width="5.20" height="1.95" fill="#7d0a0a" />
<rect x="215.00" y="898.41" width="5.20" height="1.95" fill="#7d0a0a" />
<rect x="215.00" y="901.38" width="5.20" height="1.95" fill="#7d0a0a" />
<rect x="215.00" y="904.34" width="5.20" height="1.95" fill="#7d0a0a" />
<rect x="215.00" y="907.30" width="5.20" height="1.95" fill="#7d0a0a" />
<rect x="215.00" y="910.27" width="5.20" height="1.95" fill="#7d0a0a" />
<rect x="215.00" y="913.23" width="5.20" height="1.95" fill="#7d0a0a" />
<rect x="215.00" y="916.20" width="5.20" height="1.95" fill="#7d0a0a" />
<rect x="215.80" y="919.16" width="5.20" height="1.95" fill="#7d0a0a" />
<rect x="220.30" y="886.55" width="5.20" height="1.95" fill="#0b0b80" />
<rect x="221.60" y="889.51" width="5.20" height="1.95" fill="#7d0a0a" />
<rect x="221.60" y="892.48" width="5.20" height="1.95" fill="#7d0a0a" />
<rect x="221.60" y="895.44" width="5.20" height="1.95" fill="#7d0a0a" />
<rect x="226.70" y="886.55" width="5.20" height="1.95" fill="#7d0a0a" />
<rect x="226.70" y="898.41" width="5.20" height="1.95" fill="#7d0a0a" />
<rect x="226.70" y="901.38" width="5.20" height="1.95" fill="#7d0a0a" />
<rect x="249.60" y="886.55" width="5.20" height="1.95" fill="#0b0b80" />
<rect x="249.60" y="889.51" width="5.20" height="1.95" fill="#0b0b80" />
<rect x="249.60" y="892.48" width="5.20" height="1.95" fill="#0b0b80" />
<rect x="249.60" y="895.44" width="5.20" height="1.95" fill="#0b0b80" />
<rect x="251.60" y="898.41" width="5.20" height="1.95" fill="#7d0a0a" />
<rect x="251.60" y="901.38" width="5.20" height="1.95" fill="#7d0a0a" />
<rect x="251.60" y="904.34" width="5.20" height="1.95" fill="#7d0a0a" />
<rect x="251.60" y="907.30" width="5.20" height="1.95" fill="#7d0a0a" />
<rect x="254.00" y="910.27" width="5.20" height="1.95" fill="#7d0a0a" />
<rect x="254.50" y="913.23" width="5.20" height="1.95" fill="#0b0b80" />
<rect x="254.50" y="916.20" width="5.20" height="1.95" fill="#0b0b80" />
<rect x="259.80" y="886.55" width="5.20" height="1.95" fill="#0b0b80" />
<rect x="261.20" y="889.51" width="5.20" height="1.95" fill="#0b0b80" />
<rect x="270.00" y="886.55" width="5.20" height="1.95" fill="#0b0b80" />
<rect x="272.00" y="889.51" width="5.20" height="1.95" fill="#7d0a0a" />
<rect x="276.90" y="886.55" width="5.20" height="1.95" fill="#0b0b80" />
<rect x="279.00" y="889.51" width="5.20" height="1.95" fill="#7d0a0a" />
<rect x="279.00" y="892.48" width="5.20" height="1.95" fill="#7d0a0a" />
<rect x="285.70" y="886.55" width="5.20" height="1.95" fill="#0b0b80" />
<rect x="285.70" y="889.51" width="5.20" height="1.95" fill="#0b0b80" />
<rect x="290.40" y="892.48" width="5.20" height="1.95" fill="#0b0b80" />
<rect x="290.40" y="895.44" width="5.20" height="1.95" fill="#0b0b80" />
<rect x="308.80" y="886.55" width="5.20" height="1.95" fill="#7d0a0a" />
<rect x="313.30" y="889.51" width="5.20" height="1.95" fill="#0b0b80" />
<rect x="318.40" y="886.55" width="5.20" height="1.95" fill="#0b0b80" />
<rect x="323.50" y="889.51" width="5.20" height="1.95" fill="#0b0b80" />
<text transform="translate(-0.50,952.80) scale(0.9,1)" font-size="15.3" font-weight="bold" fill="#000" font-family='"Liberation Sans", sans-serif'>f</text>
<line x1="22.30" y1="946.70" x2="343.70" y2="946.70" stroke="#a4a4a4" stroke-width="1.1" />
<line x1="22.30" y1="946.70" x2="22.30" y2="1092.30" stroke="#8c8c8c" stroke-width="1.1" />
<line x1="343.70" y1="946.20" x2="343.70" y2="1092.80" stroke="#555" stroke-width="1.1" />
<line x1="21.80" y1="1092.30" x2="344.20" y2="1092.30" stroke="#4c4c4c" stroke-width="1.1" />
<rect x="23.90" y="948.60" width="7.00" height="15.60" fill="#cdcdcd" />
<line x1="30.60" y1="948.60" x2="30.60" y2="964.20" stroke="#a9a9a9" stroke-width="0.8" />
<line x1="23.90" y1="963.90" x2="30.90" y2="963.90" stroke="#8a8a8a" stroke-width="0.9" />
<rect x="23.90" y="966.00" width="7.00" height="11.40" fill="#cdcdcd" />
<line x1="30.60" y1="966.00" x2="30.60" y2="977.40" stroke="#a9a9a9" stroke-width="0.8" />
<line x1="23.90" y1="977.10" x2="30.90" y2="977.10" stroke="#8a8a8a" stroke-width="0.9" />
<rect x="23.90" y="979.70" width="7.00" height="49.00" fill="#cdcdcd" />
<line x1="30.60" y1="979.70" x2="30.60" y2="1028.70" stroke="#a9a9a9" stroke-width="0.8" />
<line x1="23.90" y1="1028.40" x2="30.90" y2="1028.40" stroke="#8a8a8a" stroke-width="0.9" />
<rect x="23.90" y="1031.00" width="7.00" height="24.60" fill="#cdcdcd" />
<line x1="30.60" y1="1031.00" x2="30.60" y2="1055.60" stroke="#a9a9a9" stroke-width="0.8" />
<line x1="23.90" y1="1055.30" x2="30.90" y2="1055.30" stroke="#8a8a8a" stroke-width="0.9" />
<rect x="23.90" y="1058.00" width="7.00" height="33.30" fill="#cdcdcd" />
<line x1="30.60" y1="1058.00" x2="30.60" y2="1091.30" stroke="#a9a9a9" stroke-width="0.8" />
<line x1="23.90" y1="1091.00" x2="30.90" y2="1091.00" stroke="#8a8a8a" stroke-width="0.9" />
<line x1="80.50" y1="947.30" x2="80.50" y2="1091.70" stroke="#f2b4b4" stroke-width="0.9" />
<text x="83.60" y="964.40" font-size="11.6" text-anchor="end" fill="#111" font-weight="normal" font-family='"Liberation Sans", sans-serif' >chr16:</text>
<line x1="149.50" y1="957.30" x2="149.50" y2="963.50" stroke="#444" stroke-width="0.8" />
<text x="146.20" y="964.40" font-size="10.9" text-anchor="end" fill="#111" font-weight="normal" font-family='"Liberation Sans", sans-serif' >52,456,500</text>
<line x1="293.80" y1="957.30" x2="293.80" y2="963.50" stroke="#444" stroke-width="0.8" />
<text x="290.50" y="964.40" font-size="10.9" text-anchor="end" fill="#111" font-weight="normal" font-family='"Liberation Sans", sans-serif' >52,457,500</text>
<text x="77.20" y="979.20" font-size="9.3" text-anchor="end" fill="#2b2ba0" font-weight="normal" font-family='"Liberation Sans", sans-serif' >FTO</text>
<line x1="82.30" y1="975.00" x2="338.50" y2="975.00" stroke="#4a4aa8" stroke-width="0.9" />
<path d="M85.40,974.10 L84.30,975.00 L85.40,975.90 M89.05,974.10 L87.95,975.00 L89.05,975.90 M92.70,974.10 L91.60,975.00 L92.70,975.90 M96.35,974.10 L95.25,975.00 L96.35,975.90 M100.00,974.10 L98.90,975.00 L100.00,975.90 M103.65,974.10 L102.55,975.00 L103.65,975.90 M107.30,974.10 L106.20,975.00 L107.30,975.90 M110.95,974.10 L109.85,975.00 L110.95,975.90 M114.60,974.10 L113.50,975.00 L114.60,975.90 M118.25,974.10 L117.15,975.00 L118.25,975.90 M121.90,974.10 L120.80,975.00 L121.90,975.90 M125.55,974.10 L124.45,975.00 L125.55,975.90 M129.20,974.10 L128.10,975.00 L129.20,975.90 M132.85,974.10 L131.75,975.00 L132.85,975.90 M136.50,974.10 L135.40,975.00 L136.50,975.90 M140.15,974.10 L139.05,975.00 L140.15,975.90 M143.80,974.10 L142.70,975.00 L143.80,975.90 M147.45,974.10 L146.35,975.00 L147.45,975.90 M151.10,974.10 L150.00,975.00 L151.10,975.90 M154.75,974.10 L153.65,975.00 L154.75,975.90 M158.40,974.10 L157.30,975.00 L158.40,975.90 M162.05,974.10 L160.95,975.00 L162.05,975.90 M165.70,974.10 L164.60,975.00 L165.70,975.90 M169.35,974.10 L168.25,975.00 L169.35,975.90 M173.00,974.10 L171.90,975.00 L173.00,975.90 M176.65,974.10 L175.55,975.00 L176.65,975.90 M180.30,974.10 L179.20,975.00 L180.30,975.90 M183.95,974.10 L182.85,975.00 L183.95,975.90 M187.60,974.10 L186.50,975.00 L187.60,975.90 M191.25,974.10 L190.15,975.00 L191.25,975.90 M194.90,974.10 L193.80,975.00 L194.90,975.90 M198.55,974.10 L197.45,975.00 L198.55,975.90 M202.20,974.10 L201.10,975.00 L202.20,975.90 M205.85,974.10 L204.75,975.00 L205.85,975.90 M209.50,974.10 L208.40,975.00 L209.50,975.90 M213.15,974.10 L212.05,975.00 L213.15,975.90 M216.80,974.10 L215.70,975.00 L216.80,975.90 M220.45,974.10 L219.35,975.00 L220.45,975.90 M224.10,974.10 L223.00,975.00 L224.10,975.90 M227.75,974.10 L226.65,975.00 L227.75,975.90 M231.40,974.10 L230.30,975.00 L231.40,975.90 M235.05,974.10 L233.95,975.00 L235.05,975.90 M238.70,974.10 L237.60,975.00 L238.70,975.90 M242.35,974.10 L241.25,975.00 L242.35,975.90 M246.00,974.10 L244.90,975.00 L246.00,975.90 M249.65,974.10 L248.55,975.00 L249.65,975.90 M253.30,974.10 L252.20,975.00 L253.30,975.90 M256.95,974.10 L255.85,975.00 L256.95,975.90 M260.60,974.10 L259.50,975.00 L260.60,975.90 M264.25,974.10 L263.15,975.00 L264.25,975.90 M267.90,974.10 L266.80,975.00 L267.90,975.90 M271.55,974.10 L270.45,975.00 L271.55,975.90 M275.20,974.10 L274.10,975.00 L275.20,975.90 M278.85,974.10 L277.75,975.00 L278.85,975.90 M282.50,974.10 L281.40,975.00 L282.50,975.90 M286.15,974.10 L285.05,975.00 L286.15,975.90 M289.80,974.10 L288.70,975.00 L289.80,975.90 M293.45,974.10 L292.35,975.00 L293.45,975.90 M297.10,974.10 L296.00,975.00 L297.10,975.90 M300.75,974.10 L299.65,975.00 L300.75,975.90 M304.40,974.10 L303.30,975.00 L304.40,975.90 M308.05,974.10 L306.95,975.00 L308.05,975.90 M311.70,974.10 L310.60,975.00 L311.70,975.90 M315.35,974.10 L314.25,975.00 L315.35,975.90 M319.00,974.10 L317.90,975.00 L319.00,975.90 M322.65,974.10 L321.55,975.00 L322.65,975.90 M326.30,974.10 L325.20,975.00 L326.30,975.90 M329.95,974.10 L328.85,975.00 L329.95,975.90 M333.60,974.10 L332.50,975.00 L333.60,975.90 M337.25,974.10 L336.15,975.00 L337.25,975.90" fill="none" stroke="#5a5ab0" stroke-width="0.6"/>
<text transform="translate(75.8,1010.30) scale(0.93,1)" font-size="12.4" text-anchor="end" fill="#111" font-family='"Liberation Sans", sans-serif'>NT_r1</text>
<rect x="96.80" y="985.85" width="5.20" height="1.95" fill="#7d0a0a" />
<rect x="104.00" y="985.85" width="5.20" height="1.95" fill="#0b0b80" />
<rect x="109.20" y="988.81" width="5.20" height="1.95" fill="#0b0b80" />
<rect x="101.30" y="988.81" width="5.20" height="1.95" fill="#0b0b80" />
<rect x="101.30" y="991.78" width="5.20" height="1.95" fill="#0b0b80" />
<rect x="104.60" y="994.74" width="5.20" height="1.95" fill="#0b0b80" />
<rect x="104.60" y="997.71" width="5.20" height="1.95" fill="#0b0b80" />
<rect x="106.60" y="1000.67" width="5.20" height="1.95" fill="#0b0b80" />
<rect x="108.60" y="1003.64" width="5.20" height="1.95" fill="#0b0b80" />
<rect x="108.60" y="1006.60" width="5.20" height="1.95" fill="#0b0b80" />
<rect x="108.60" y="1009.57" width="5.20" height="1.95" fill="#0b0b80" />
<rect x="121.40" y="985.85" width="5.20" height="1.95" fill="#7d0a0a" />
<rect x="128.90" y="985.85" width="5.20" height="1.95" fill="#7d0a0a" />
<rect x="123.80" y="988.81" width="5.20" height="1.95" fill="#7d0a0a" />
<rect x="123.80" y="991.78" width="5.20" height="1.95" fill="#7d0a0a" />
<rect x="126.30" y="994.74" width="5.20" height="1.95" fill="#7d0a0a" />
<rect x="126.30" y="997.71" width="5.20" height="1.95" fill="#7d0a0a" />
<rect x="126.30" y="1000.67" width="5.20" height="1.95" fill="#7d0a0a" />
<rect x="128.30" y="1003.64" width="5.20" height="1.95" fill="#7d0a0a" />
<rect x="129.30" y="1006.60" width="5.20" height="1.95" fill="#7d0a0a" />
<rect x="129.30" y="1009.57" width="5.20" height="1.95" fill="#7d0a0a" />
<rect x="138.10" y="985.85" width="5.20" height="1.95" fill="#7d0a0a" />
<rect x="150.60" y="985.85" width="5.20" height="1.95" fill="#7d0a0a" />
<rect x="150.60" y="988.81" width="5.20" height="1.95" fill="#7d0a0a" />
<rect x="142.10" y="988.81" width="5.20" height="1.95" fill="#0b0b80" />
<rect x="144.00" y="991.78" width="5.20" height="1.95" fill="#0b0b80" />
<rect x="144.00" y="994.74" width="5.20" height="1.95" fill="#0b0b80" />
<rect x="144.00" y="997.71" width="5.20" height="1.95" fill="#0b0b80" />
<rect x="144.00" y="1000.67" width="5.20" height="1.95" fill="#0b0b80" />
<rect x="144.00" y="1003.64" width="5.20" height="1.95" fill="#0b0b80" />
<rect x="144.00" y="1006.60" width="5.20" height="1.95" fill="#0b0b80" />
<rect x="144.00" y="1009.57" width="5.20" height="1.95" fill="#0b0b80" />
<rect x="144.00" y="1012.53" width="5.20" height="1.95" fill="#0b0b80" />
<rect x="144.00" y="1015.50" width="5.20" height="1.95" fill="#0b0b80" />
<rect x="144.00" y="1018.46" width="5.20" height="1.95" fill="#0b0b80" />
<rect x="144.00" y="1021.43" width="5.20" height="1.95" fill="#0b0b80" />
<rect x="144.00" y="1024.39" width="5.20" height="1.95" fill="#0b0b80" />
<rect x="144.00" y="1027.36" width="5.20" height="1.95" fill="#0b0b80" />
<rect x="192.70" y="985.85" width="5.20" height="1.95" fill="#0b0b80" />
<rect x="192.70" y="988.81" width="5.20" height="1.95" fill="#0b0b80" />
<rect x="192.70" y="991.78" width="5.20" height="1.95" fill="#0b0b80" />
<rect x="192.70" y="994.74" width="5.20" height="1.95" fill="#0b0b80" />
<rect x="202.00" y="985.85" width="5.20" height="1.95" fill="#7d0a0a" />
<rect x="202.00" y="988.81" width="5.20" height="1.95" fill="#7d0a0a" />
<rect x="203.20" y="991.78" width="5.20" height="1.95" fill="#7d0a0a" />
<rect x="204.70" y="994.74" width="5.20" height="1.95" fill="#7d0a0a" />
<rect x="204.70" y="997.71" width="5.20" height="1.95" fill="#7d0a0a" />
<rect x="204.70" y="1000.67" width="5.20" height="1.95" fill="#7d0a0a" />
<rect x="204.70" y="1003.64" width="5.20" height="1.95" fill="#7d0a0a" />
<rect x="208.00" y="1006.60" width="5.20" height="1.95" fill="#7d0a0a" />
<rect x="208.00" y="1009.57" width="5.20" height="1.95" fill="#7d0a0a" />
<rect x="208.00" y="1012.53" width="5.20" height="1.95" fill="#7d0a0a" />
<rect x="210.60" y="1015.50" width="5.20" height="1.95" fill="#0b0b80" />
<rect x="210.00" y="985.85" width="5.20" height="1.95" fill="#7d0a0a" />
<rect x="210.00" y="988.81" width="5.20" height="1.95" fill="#7d0a0a" />
<rect x="215.90" y="985.85" width="5.20" height="1.95" fill="#0b0b80" />
<rect x="210.60" y="991.78" width="5.20" height="1.95" fill="#0b0b80" />
<rect x="226.00" y="985.85" width="5.20" height="1.95" fill="#7d0a0a" />
<rect x="226.00" y="988.81" width="5.20" height="1.95" fill="#7d0a0a" />
<rect x="224.30" y="991.78" width="5.20" height="1.95" fill="#0b0b80" />
<rect x="224.30" y="994.74" width="5.20" height="1.95" fill="#0b0b80" />
<rect x="236.40" y="985.85" width="5.20" height="1.95" fill="#0b0b80" />
<rect x="236.40" y="988.81" width="5.20" height="1.95" fill="#0b0b80" />
<rect x="232.80" y="991.78" width="5.20" height="1.95" fill="#7d0a0a" />
<rect x="232.80" y="994.74" width="5.20" height="1.95" fill="#7d0a0a" />
<rect x="251.40" y="985.85" width="5.20" height="1.95" fill="#7d0a0a" />
<rect x="256.50" y="988.81" width="5.20" height="1.95" fill="#0b0b80" />
<rect x="261.80" y="985.85" width="5.20" height="1.95" fill="#7d0a0a" />
<rect x="297.80" y="985.85" width="5.20" height="1.95" fill="#0b0b80" />
<rect x="297.80" y="988.81" width="5.20" height="1.95" fill="#0b0b80" />
<rect x="297.80" y="991.78" width="5.20" height="1.95" fill="#0b0b80" />
<rect x="317.90" y="985.85" width="5.20" height="1.95" fill="#7d0a0a" />
<rect x="317.90" y="988.81" width="5.20" height="1.95" fill="#7d0a0a" />
<rect x="319.60" y="991.78" width="5.20" height="1.95" fill="#0b0b80" />
<rect x="319.60" y="994.74" width="5.20" height="1.95" fill="#0b0b80" />
<rect x="319.60" y="997.71" width="5.20" height="1.95" fill="#0b0b80" />
<rect x="319.60" y="1000.67" width="5.20" height="1.95" fill="#0b0b80" />
<text transform="translate(75.8,1048.20) scale(0.93,1)" font-size="12.4" text-anchor="end" fill="#111" font-family='"Liberation Sans", sans-serif'>NT_r2</text>
<rect x="104.00" y="1037.05" width="5.20" height="1.95" fill="#0b0b80" />
<rect x="113.90" y="1037.05" width="5.20" height="1.95" fill="#0b0b80" />
<rect x="113.90" y="1040.01" width="5.20" height="1.95" fill="#0b0b80" />
<rect x="113.90" y="1042.98" width="5.20" height="1.95" fill="#0b0b80" />
<rect x="125.70" y="1037.05" width="5.20" height="1.95" fill="#7d0a0a" />
<rect x="125.70" y="1040.01" width="5.20" height="1.95" fill="#7d0a0a" />
<rect x="125.70" y="1042.98" width="5.20" height="1.95" fill="#7d0a0a" />
<rect x="125.70" y="1045.94" width="5.20" height="1.95" fill="#7d0a0a" />
<rect x="125.70" y="1048.91" width="5.20" height="1.95" fill="#7d0a0a" />
<rect x="125.70" y="1051.88" width="5.20" height="1.95" fill="#7d0a0a" />
<rect x="144.00" y="1037.05" width="5.20" height="1.95" fill="#0b0b80" />
<rect x="144.00" y="1040.01" width="5.20" height="1.95" fill="#0b0b80" />
<rect x="144.00" y="1042.98" width="5.20" height="1.95" fill="#0b0b80" />
<rect x="144.00" y="1045.94" width="5.20" height="1.95" fill="#0b0b80" />
<rect x="144.00" y="1048.91" width="5.20" height="1.95" fill="#0b0b80" />
<rect x="144.00" y="1051.88" width="5.20" height="1.95" fill="#0b0b80" />
<rect x="148.00" y="1054.84" width="5.20" height="1.95" fill="#0b0b80" />
<rect x="205.10" y="1037.05" width="5.20" height="1.95" fill="#7d0a0a" />
<rect x="206.40" y="1040.01" width="5.20" height="1.95" fill="#0b0b80" />
<rect x="217.40" y="1037.05" width="5.20" height="1.95" fill="#7d0a0a" />
<rect x="217.40" y="1040.01" width="5.20" height="1.95" fill="#7d0a0a" />
<rect x="217.40" y="1042.98" width="5.20" height="1.95" fill="#7d0a0a" />
<rect x="229.00" y="1037.05" width="5.20" height="1.95" fill="#7d0a0a" />
<rect x="225.40" y="1040.01" width="5.20" height="1.95" fill="#0b0b80" />
<rect x="225.40" y="1042.98" width="5.20" height="1.95" fill="#0b0b80" />
<rect x="225.40" y="1045.94" width="5.20" height="1.95" fill="#0b0b80" />
<rect x="275.60" y="1037.05" width="5.20" height="1.95" fill="#0b0b80" />
<rect x="275.60" y="1040.01" width="5.20" height="1.95" fill="#0b0b80" />
<rect x="292.50" y="1037.05" width="5.20" height="1.95" fill="#0b0b80" />
<rect x="308.00" y="1037.05" width="5.20" height="1.95" fill="#7d0a0a" />
<text transform="translate(75.8,1079.00) scale(0.93,1)" font-size="12.4" text-anchor="end" fill="#111" font-family='"Liberation Sans", sans-serif'>4OHT</text>
<rect x="90.20" y="1064.35" width="5.20" height="1.95" fill="#7d0a0a" />
<rect x="97.70" y="1064.35" width="5.20" height="1.95" fill="#7d0a0a" />
<rect x="97.70" y="1067.31" width="5.20" height="1.95" fill="#7d0a0a" />
<rect x="98.70" y="1070.28" width="5.20" height="1.95" fill="#7d0a0a" />
<rect x="104.00" y="1064.35" width="5.20" height="1.95" fill="#0b0b80" />
<rect x="128.90" y="1064.35" width="5.20" height="1.95" fill="#7d0a0a" />
<rect x="128.90" y="1067.31" width="5.20" height="1.95" fill="#7d0a0a" />
<rect x="138.30" y="1064.35" width="5.20" height="1.95" fill="#7d0a0a" />
<rect x="138.30" y="1067.31" width="5.20" height="1.95" fill="#7d0a0a" />
<rect x="138.30" y="1070.28" width="5.20" height="1.95" fill="#7d0a0a" />
<rect x="138.30" y="1073.24" width="5.20" height="1.95" fill="#7d0a0a" />
<rect x="138.30" y="1076.21" width="5.20" height="1.95" fill="#7d0a0a" />
<rect x="138.30" y="1079.17" width="5.20" height="1.95" fill="#7d0a0a" />
<rect x="149.40" y="1064.35" width="5.20" height="1.95" fill="#0b0b80" />
<rect x="149.40" y="1067.31" width="5.20" height="1.95" fill="#0b0b80" />
<rect x="149.40" y="1070.28" width="5.20" height="1.95" fill="#0b0b80" />
<rect x="149.40" y="1073.24" width="5.20" height="1.95" fill="#0b0b80" />
<rect x="151.00" y="1076.21" width="5.20" height="1.95" fill="#7d0a0a" />
<rect x="144.00" y="1079.17" width="5.20" height="1.95" fill="#0b0b80" />
<rect x="140.10" y="1082.14" width="5.20" height="1.95" fill="#0b0b80" />
<rect x="143.50" y="1085.11" width="5.20" height="1.95" fill="#0b0b80" />
<rect x="143.50" y="1088.07" width="5.20" height="1.95" fill="#0b0b80" />
<rect x="169.10" y="1064.35" width="5.20" height="1.95" fill="#7d0a0a" />
<rect x="176.00" y="1067.31" width="5.20" height="1.95" fill="#7d0a0a" />
<rect x="176.00" y="1070.28" width="5.20" height="1.95" fill="#7d0a0a" />
<rect x="205.70" y="1064.35" width="5.20" height="1.95" fill="#7d0a0a" />
<rect x="206.40" y="1067.31" width="5.20" height="1.95" fill="#7d0a0a" />
<rect x="208.50" y="1070.28" width="5.20" height="1.95" fill="#0b0b80" />
<rect x="211.60" y="1073.24" width="5.20" height="1.95" fill="#0b0b80" />
<rect x="212.00" y="1076.21" width="5.20" height="1.95" fill="#7d0a0a" />
<rect x="212.00" y="1079.17" width="5.20" height="1.95" fill="#7d0a0a" />
<rect x="217.40" y="1082.14" width="5.20" height="1.95" fill="#7d0a0a" />
<rect x="217.40" y="1064.35" width="5.20" height="1.95" fill="#7d0a0a" />
<rect x="217.40" y="1067.31" width="5.20" height="1.95" fill="#7d0a0a" />
<rect x="217.40" y="1070.28" width="5.20" height="1.95" fill="#7d0a0a" />
<rect x="222.60" y="1073.24" width="5.20" height="1.95" fill="#7d0a0a" />
<rect x="231.30" y="1064.35" width="5.20" height="1.95" fill="#7d0a0a" />
<rect x="231.30" y="1067.31" width="5.20" height="1.95" fill="#7d0a0a" />
<rect x="231.30" y="1070.28" width="5.20" height="1.95" fill="#7d0a0a" />
<rect x="232.80" y="1073.24" width="5.20" height="1.95" fill="#7d0a0a" />
<rect x="268.20" y="1064.35" width="5.20" height="1.95" fill="#7d0a0a" />
<rect x="268.20" y="1067.31" width="5.20" height="1.95" fill="#7d0a0a" />
<rect x="276.60" y="1064.35" width="5.20" height="1.95" fill="#0b0b80" />
<rect x="277.70" y="1067.31" width="5.20" height="1.95" fill="#0b0b80" />
<rect x="300.10" y="1064.35" width="5.20" height="1.95" fill="#0b0b80" />
<rect x="308.00" y="1064.35" width="5.20" height="1.95" fill="#7d0a0a" />
<rect x="302.70" y="1067.31" width="5.20" height="1.95" fill="#7d0a0a" />
<rect x="310.00" y="1067.31" width="5.20" height="1.95" fill="#0b0b80" />
<rect x="310.00" y="1070.28" width="5.20" height="1.95" fill="#0b0b80" />
<rect x="310.00" y="1073.24" width="5.20" height="1.95" fill="#0b0b80" />
<rect x="313.30" y="1076.21" width="5.20" height="1.95" fill="#0b0b80" />
<rect x="313.30" y="1079.17" width="5.20" height="1.95" fill="#0b0b80" />
<text x="375.90" y="7.30" font-size="17" text-anchor="start" fill="#000" font-weight="bold" font-family='"Liberation Serif", serif' >g</text>
<circle cx="560.00" cy="141.70" r="116.80" fill="#7c8a8c" opacity="0.55" filter="url(#pieShadow)"/>
<path d="M559.80,140.60 L559.80,24.30 A116.30,116.30 0 0 1 614.52,37.98 Z" fill="url(#gBlue)"/>
<path d="M559.80,140.60 L614.52,37.98 A116.30,116.30 0 1 1 498.01,239.13 Z" fill="url(#gRed)"/>
<path d="M559.80,140.60 L498.01,239.13 A116.30,116.30 0 0 1 559.80,24.30 Z" fill="url(#gGreen)"/>
<path d="M491.72,245.28 A124.2,124.2 0 0 1 615.87,30.25" fill="none" stroke="#7a7a7a" stroke-width="1.1"/>
<line x1="450.60" y1="35.00" x2="470.20" y2="51.00" stroke="#444" stroke-width="0.9" />
<path d="M588.3,27.3 L592.7,13.9 L597.8,13.9" fill="none" stroke="#444" stroke-width="0.9"/>
<text x="432.80" y="17.50" font-size="11.9" text-anchor="middle" fill="#111" font-weight="normal" font-family='"Liberation Sans", sans-serif' >Promoter and</text>
<text x="432.80" y="32.00" font-size="11.9" text-anchor="middle" fill="#111" font-weight="normal" font-family='"Liberation Sans", sans-serif' >gene body</text>
<text x="432.60" y="46.60" font-size="11.9" text-anchor="middle" fill="#111" font-weight="normal" font-family='"Liberation Sans", sans-serif' >3,975</text>
<text x="630.20" y="17.20" font-size="11.9" text-anchor="middle" fill="#111" font-weight="normal" font-family='"Liberation Sans", sans-serif' >Promoter</text>
<text x="629.70" y="31.60" font-size="11.9" text-anchor="middle" fill="#111" font-weight="normal" font-family='"Liberation Sans", sans-serif' >634</text>
<text x="503.00" y="139.10" font-size="11.9" text-anchor="middle" fill="#111" font-weight="normal" font-family='"Liberation Sans", sans-serif' >Gene body</text>
<text x="502.00" y="153.60" font-size="11.9" text-anchor="middle" fill="#111" font-weight="normal" font-family='"Liberation Sans", sans-serif' >3,341</text>
<text x="627.00" y="178.80" font-size="11.9" text-anchor="middle" fill="#111" font-weight="normal" font-family='"Liberation Sans", sans-serif' >Intergenic</text>
<text x="626.30" y="192.70" font-size="11.9" text-anchor="middle" fill="#111" font-weight="normal" font-family='"Liberation Sans", sans-serif' >4,157</text>
<text transform="translate(376.00,274.60) scale(0.9,1)" font-size="15.3" font-weight="bold" fill="#000" font-family='"Liberation Sans", sans-serif'>h</text>
<circle cx="544.00" cy="411.50" r="120.10" fill="#7c8a8c" opacity="0.55" filter="url(#pieShadow)"/>
<path d="M543.80,410.40 L543.80,290.80 A119.60,119.60 0 0 1 572.15,294.21 Z" fill="url(#gBlue)"/>
<path d="M543.80,410.40 L572.15,294.21 A119.60,119.60 0 0 1 658.83,377.64 Z" fill="url(#gRed)"/>
<path d="M543.80,410.40 L658.83,377.64 A119.60,119.60 0 1 1 543.80,290.80 Z" fill="url(#gGreen)"/>
<path d="M558.0,291.6 L586.6,280.1 L591.6,280.1" fill="none" stroke="#444" stroke-width="0.9"/>
<text x="631.60" y="283.00" font-size="11.9" text-anchor="middle" fill="#111" font-weight="normal" font-family='"Liberation Sans", sans-serif' >Promoter and</text>
<text x="631.60" y="297.60" font-size="11.9" text-anchor="middle" fill="#111" font-weight="normal" font-family='"Liberation Sans", sans-serif' >gene body</text>
<text x="631.60" y="312.00" font-size="11.9" text-anchor="middle" fill="#111" font-weight="normal" font-family='"Liberation Sans", sans-serif' >116</text>
<text x="598.70" y="355.40" font-size="11.9" text-anchor="middle" fill="#111" font-weight="normal" font-family='"Liberation Sans", sans-serif' >Promoter</text>
<text x="598.20" y="369.90" font-size="11.9" text-anchor="middle" fill="#111" font-weight="normal" font-family='"Liberation Sans", sans-serif' >only 511</text>
<text x="481.00" y="437.00" font-size="11.9" text-anchor="middle" fill="#111" font-weight="normal" font-family='"Liberation Sans", sans-serif' >Gene body only</text>
<text x="481.30" y="451.50" font-size="11.9" text-anchor="middle" fill="#111" font-weight="normal" font-family='"Liberation Sans", sans-serif' >2,419</text>
<text transform="translate(368.00,556.60) scale(0.9,1)" font-size="15.3" font-weight="bold" fill="#000" font-family='"Liberation Sans", sans-serif'>i</text>
<line x1="415.50" y1="554.30" x2="673.60" y2="554.30" stroke="#c8c8c8" stroke-width="1" />
<line x1="673.60" y1="554.30" x2="673.60" y2="708.50" stroke="#c8c8c8" stroke-width="1" />
<line x1="415.50" y1="554.30" x2="415.50" y2="708.50" stroke="#a8a8a8" stroke-width="1.1" />
<line x1="415.50" y1="708.50" x2="673.60" y2="708.50" stroke="#a8a8a8" stroke-width="1.1" />
<line x1="411.30" y1="702.90" x2="415.50" y2="702.90" stroke="#999" stroke-width="1" />
<text x="406.20" y="707.20" font-size="12" text-anchor="end" fill="#111" font-weight="normal" font-family='"Liberation Sans", sans-serif' >0</text>
<line x1="411.30" y1="653.90" x2="415.50" y2="653.90" stroke="#999" stroke-width="1" />
<text x="406.20" y="658.20" font-size="12" text-anchor="end" fill="#111" font-weight="normal" font-family='"Liberation Sans", sans-serif' >1</text>
<line x1="411.30" y1="604.90" x2="415.50" y2="604.90" stroke="#999" stroke-width="1" />
<text x="406.20" y="609.20" font-size="12" text-anchor="end" fill="#111" font-weight="normal" font-family='"Liberation Sans", sans-serif' >2</text>
<line x1="411.30" y1="555.90" x2="415.50" y2="555.90" stroke="#999" stroke-width="1" />
<text x="406.20" y="560.20" font-size="12" text-anchor="end" fill="#111" font-weight="normal" font-family='"Liberation Sans", sans-serif' >3</text>
<line x1="440.15" y1="708.50" x2="440.15" y2="713.00" stroke="#999" stroke-width="1" />
<text x="439.65" y="728.30" font-size="11.8" text-anchor="middle" fill="#111" font-weight="normal" font-family='"Liberation Sans", sans-serif' >−3</text>
<line x1="474.90" y1="708.50" x2="474.90" y2="713.00" stroke="#999" stroke-width="1" />
<text x="474.40" y="728.30" font-size="11.8" text-anchor="middle" fill="#111" font-weight="normal" font-family='"Liberation Sans", sans-serif' >−2</text>
<line x1="509.65" y1="708.50" x2="509.65" y2="713.00" stroke="#999" stroke-width="1" />
<text x="509.15" y="728.30" font-size="11.8" text-anchor="middle" fill="#111" font-weight="normal" font-family='"Liberation Sans", sans-serif' >−1</text>
<line x1="544.40" y1="708.50" x2="544.40" y2="713.00" stroke="#999" stroke-width="1" />
<text x="544.40" y="728.30" font-size="11.8" text-anchor="middle" fill="#111" font-weight="normal" font-family='"Liberation Sans", sans-serif' >TSS</text>
<line x1="579.15" y1="708.50" x2="579.15" y2="713.00" stroke="#999" stroke-width="1" />
<text x="579.15" y="728.30" font-size="11.8" text-anchor="middle" fill="#111" font-weight="normal" font-family='"Liberation Sans", sans-serif' >1</text>
<line x1="613.90" y1="708.50" x2="613.90" y2="713.00" stroke="#999" stroke-width="1" />
<text x="613.90" y="728.30" font-size="11.8" text-anchor="middle" fill="#111" font-weight="normal" font-family='"Liberation Sans", sans-serif' >2</text>
<line x1="648.65" y1="708.50" x2="648.65" y2="713.00" stroke="#999" stroke-width="1" />
<text x="648.65" y="728.30" font-size="11.8" text-anchor="middle" fill="#111" font-weight="normal" font-family='"Liberation Sans", sans-serif' >3</text>
<text transform="translate(385.6,633.4) rotate(-90)" font-size="11.8" text-anchor="middle" fill="#111" font-family='"Liberation Sans", sans-serif'>DSB density (10<tspan dy="-3.5" font-size="8">−4</tspan><tspan dy="3.5">)</tspan></text>
<line x1="568.90" y1="555.30" x2="568.90" y2="708.50" stroke="#d3a0a6" stroke-width="0.85" stroke-dasharray="1.2,0.8"/>
<path d="M425.40,702.30 L426.11,702.24 L427.07,702.19 L428.22,702.11 L429.47,701.99 L430.76,701.83 L432.00,701.60 L433.20,701.38 L434.42,701.19 L435.67,700.96 L436.96,700.59 L438.30,699.99 L439.70,699.10 L441.18,697.90 L442.74,696.47 L444.34,694.81 L445.97,692.96 L447.60,690.91 L449.20,688.70 L450.79,686.24 L452.41,683.50 L454.02,680.57 L455.60,677.55 L457.14,674.53 L458.60,671.60 L459.97,668.68 L461.27,665.69 L462.51,662.69 L463.73,659.78 L464.95,657.02 L466.20,654.50 L467.47,652.21 L468.73,650.10 L470.00,648.14 L471.27,646.33 L472.53,644.66 L473.80,643.10 L475.07,641.68 L476.33,640.42 L477.60,639.29 L478.87,638.27 L480.13,637.35 L481.40,636.50 L482.67,635.76 L483.93,635.16 L485.20,634.64 L486.47,634.19 L487.73,633.75 L489.00,633.30 L490.27,632.88 L491.53,632.53 L492.80,632.21 L494.07,631.84 L495.33,631.39 L496.60,630.80 L497.87,630.07 L499.13,629.24 L500.40,628.32 L501.67,627.33 L502.93,626.25 L504.20,625.10 L505.47,623.83 L506.73,622.44 L508.00,620.97 L509.27,619.47 L510.53,618.00 L511.80,616.60 L513.05,615.28 L514.27,614.00 L515.49,612.74 L516.73,611.50 L518.03,610.26 L519.40,609.00 L520.86,607.77 L522.40,606.57 L523.98,605.38 L525.59,604.14 L527.21,602.83 L528.80,601.40 L530.38,599.85 L531.97,598.22 L533.56,596.51 L535.14,594.73 L536.73,592.89 L538.30,591.00 L539.88,589.02 L541.48,586.91 L543.07,584.76 L544.63,582.60 L546.15,580.49 L547.60,578.50 L548.97,576.59 L550.26,574.71 L551.51,572.88 L552.73,571.14 L553.95,569.50 L555.20,568.00 L556.49,566.62 L557.80,565.33 L559.12,564.16 L560.41,563.10 L561.64,562.18 L562.80,561.40 L563.85,560.78 L564.81,560.31 L565.71,559.97 L566.60,559.76 L567.52,559.64 L568.50,559.60 L569.56,559.65 L570.67,559.79 L571.80,560.03 L572.93,560.38 L574.04,560.83 L575.10,561.40 L576.09,562.06 L577.03,562.80 L577.95,563.65 L578.87,564.63 L579.81,565.77 L580.80,567.10 L581.84,568.63 L582.90,570.34 L583.98,572.21 L585.09,574.21 L586.23,576.32 L587.40,578.50 L588.61,580.82 L589.86,583.33 L591.14,585.93 L592.43,588.56 L593.72,591.14 L595.00,593.60 L596.27,595.98 L597.53,598.34 L598.80,600.66 L600.07,602.88 L601.33,604.98 L602.60,606.90 L603.88,608.62 L605.17,610.15 L606.46,611.56 L607.73,612.88 L608.99,614.18 L610.20,615.50 L611.37,616.77 L612.50,617.93 L613.61,619.07 L614.71,620.26 L615.80,621.57 L616.90,623.10 L618.02,624.84 L619.14,626.74 L620.26,628.78 L621.37,630.91 L622.45,633.13 L623.50,635.40 L624.50,637.77 L625.47,640.26 L626.41,642.83 L627.33,645.43 L628.26,648.04 L629.20,650.60 L630.15,653.12 L631.10,655.64 L632.05,658.15 L633.00,660.66 L633.95,663.18 L634.90,665.70 L635.85,668.27 L636.80,670.90 L637.75,673.53 L638.70,676.11 L639.65,678.59 L640.60,680.90 L641.53,683.06 L642.43,685.12 L643.33,687.07 L644.26,688.92 L645.24,690.66 L646.30,692.30 L647.42,693.85 L648.59,695.30 L649.81,696.66 L651.09,697.89 L652.45,698.97 L653.90,699.90 L655.59,700.64 L657.54,701.20 L659.57,701.62 L661.50,701.94 L663.14,702.19 L664.30,702.40" fill="none" stroke="#b3b3e2" stroke-width="1.05" stroke-linejoin="round" />
<text transform="translate(368.60,742.90) scale(0.9,1)" font-size="15.3" font-weight="bold" fill="#000" font-family='"Liberation Sans", sans-serif'>j</text>
<line x1="414.60" y1="743.90" x2="414.60" y2="887.60" stroke="#cfcfcf" stroke-width="1.1" />
<line x1="414.60" y1="887.60" x2="674.30" y2="887.60" stroke="#cfcfcf" stroke-width="1.5" />
<line x1="412.40" y1="744.40" x2="417.00" y2="744.40" stroke="#aaa" stroke-width="0.9" />
<line x1="413.60" y1="815.40" x2="417.00" y2="815.40" stroke="#bbb" stroke-width="0.9" />
<line x1="544.30" y1="887.60" x2="544.30" y2="890.20" stroke="#999" stroke-width="0.8" />
<text x="409.60" y="748.70" font-size="11.7" text-anchor="end" fill="#111" font-weight="normal" font-family='"Liberation Sans", sans-serif' >34.6</text>
<text transform="translate(396.6,817.0) rotate(-90)" font-size="11.8" text-anchor="middle" fill="#111" font-family='"Liberation Sans", sans-serif'>Mean density</text>
<text x="414.60" y="905.60" font-size="12" text-anchor="middle" fill="#111" font-weight="normal" font-family='"Liberation Sans", sans-serif' >−5.0</text>
<text x="673.60" y="905.60" font-size="12" text-anchor="middle" fill="#111" font-weight="normal" font-family='"Liberation Sans", sans-serif' >+5.0</text>
<path d="M544.30,896.80 L544.91,898.26 L546.49,898.39 L545.28,899.42 L545.65,900.96 L544.30,900.13 L542.95,900.96 L543.32,899.42 L542.11,898.39 L543.69,898.26Z" fill="#000"/>
<path d="M414.60,872.90 L416.83,873.85 L420.00,875.16 L423.10,876.10 L425.73,876.16 L428.29,875.84 L431.00,876.00 L433.92,877.20 L436.99,878.87 L440.20,880.10 L443.46,880.50 L446.86,880.47 L450.70,880.30 L455.43,879.92 L460.61,879.40 L465.20,879.20 L468.71,879.65 L471.63,880.43 L474.40,881.00 L477.18,881.23 L479.82,881.25 L482.30,881.00 L484.61,880.30 L486.77,879.31 L488.80,878.50 L490.63,878.15 L492.33,877.97 L494.10,877.50 L496.11,876.52 L498.19,875.26 L500.00,873.90 L501.16,872.70 L502.05,871.40 L503.50,869.50 L506.07,866.66 L509.20,863.21 L512.00,859.60 L514.08,856.22 L515.83,852.68 L517.60,848.20 L519.49,842.33 L521.40,835.52 L523.30,828.40 L525.20,821.18 L527.11,813.65 L529.00,805.80 L530.92,797.20 L532.83,788.28 L534.60,780.30 L536.13,773.61 L537.52,767.87 L538.90,763.30 L540.33,760.04 L541.75,757.95 L543.10,756.90 L544.35,756.74 L545.53,757.61 L546.70,759.80 L547.85,763.61 L548.99,768.74 L550.20,774.60 L551.49,781.17 L552.86,788.46 L554.40,795.90 L556.19,803.49 L558.14,811.23 L560.10,818.50 L562.00,825.05 L563.91,831.13 L565.80,836.90 L567.62,842.52 L569.43,847.83 L571.40,852.50 L573.64,856.29 L576.04,859.44 L578.50,862.40 L581.11,865.62 L583.77,868.64 L586.10,870.50 L587.80,870.30 L589.16,868.95 L590.70,868.20 L592.60,868.96 L594.67,870.32 L596.90,871.30 L599.33,871.36 L601.91,871.04 L604.50,871.00 L607.03,871.66 L609.58,872.59 L612.20,873.20 L614.89,873.03 L617.66,872.54 L620.60,872.50 L623.90,873.50 L627.39,874.96 L630.60,875.90 L633.36,876.12 L635.86,875.83 L638.20,874.70 L640.32,872.15 L642.28,868.76 L644.40,866.00 L646.94,864.53 L649.64,863.69 L652.00,862.90 L653.70,861.84 L655.06,860.84 L656.60,860.30 L658.55,860.36 L660.68,860.87 L662.80,861.80 L664.93,863.38 L667.04,865.37 L668.90,867.00 L670.48,867.98 L671.80,868.60 L672.70,869.00" fill="none" stroke="#8de08a" stroke-width="1.1" stroke-linejoin="round" />
<path d="M414.60,862.60 L416.80,862.24 L419.94,861.73 L423.10,861.20 L425.86,860.48 L428.64,859.75 L431.70,859.70 L435.41,861.02 L439.42,863.01 L442.90,864.30 L445.27,864.20 L447.11,863.39 L449.40,862.50 L452.70,861.59 L456.44,860.60 L459.90,860.00 L462.60,860.10 L465.02,860.59 L467.80,861.00 L471.44,861.24 L475.44,861.41 L479.00,861.30 L481.81,860.87 L484.19,860.16 L486.20,859.10 L487.77,857.46 L488.99,855.48 L490.20,853.80 L491.43,852.71 L492.66,851.92 L494.10,851.20 L496.01,850.61 L498.14,850.08 L500.00,849.20 L501.16,847.77 L502.05,845.99 L503.50,844.00 L506.04,841.67 L509.14,839.12 L512.00,836.90 L514.34,835.19 L516.46,833.79 L518.40,832.70 L520.09,832.00 L521.61,831.59 L523.30,831.20 L525.38,830.57 L527.62,829.94 L529.70,829.80 L531.41,830.48 L532.96,831.63 L534.60,832.70 L536.50,833.46 L538.48,834.13 L540.30,834.80 L541.81,835.73 L543.15,836.67 L544.50,836.90 L545.96,835.94 L547.42,834.29 L548.80,832.70 L550.02,831.35 L551.16,830.06 L552.30,829.10 L553.44,828.81 L554.60,828.84 L555.90,828.40 L557.43,826.82 L559.11,824.77 L560.80,823.50 L562.44,823.55 L564.09,824.38 L565.80,825.60 L567.64,827.36 L569.56,829.51 L571.40,831.20 L573.17,831.85 L574.87,832.05 L576.40,832.70 L577.58,834.27 L578.59,836.30 L579.90,838.30 L581.71,840.00 L583.82,841.68 L586.10,843.70 L588.50,846.53 L591.07,849.71 L593.80,852.20 L596.64,853.47 L599.65,854.04 L603.00,854.50 L607.04,854.99 L611.43,855.35 L615.30,855.70 L618.24,856.17 L620.65,856.64 L622.90,856.80 L624.76,856.35 L626.45,855.60 L629.00,855.20 L633.37,855.41 L638.60,855.99 L642.80,856.80 L644.90,857.98 L645.98,859.40 L647.40,860.60 L649.74,861.48 L652.42,862.14 L655.10,862.40 L657.56,861.89 L660.01,860.98 L662.80,860.60 L666.54,861.36 L670.61,862.64 L673.50,863.60" fill="none" stroke="#fbd27c" stroke-width="1.1" stroke-linejoin="round" />
<path d="M414.60,853.80 L415.29,853.73 L416.34,853.57 L417.90,853.00 L420.19,851.66 L423.00,849.90 L425.80,848.50 L428.63,847.71 L431.46,847.29 L433.70,847.20 L434.89,847.34 L435.48,847.82 L436.30,849.00 L437.69,851.58 L439.29,854.86 L440.90,857.10 L442.36,857.30 L443.83,856.45 L445.50,855.80 L447.47,855.97 L449.66,856.34 L452.00,856.30 L454.50,855.25 L457.16,853.79 L459.90,853.10 L462.81,854.09 L465.81,855.84 L468.50,856.80 L470.71,855.93 L472.63,854.27 L474.40,853.40 L476.08,854.29 L477.61,855.96 L479.00,857.10 L480.10,857.31 L481.06,856.99 L482.30,856.00 L484.07,853.94 L486.14,851.21 L488.20,848.90 L490.17,847.57 L492.13,846.65 L494.10,845.50 L496.10,843.84 L498.11,841.94 L500.00,840.00 L501.73,838.11 L503.35,836.17 L504.90,834.10 L506.23,832.19 L507.49,830.14 L509.20,827.00 L511.85,821.86 L514.95,815.61 L517.60,810.00 L519.34,806.02 L520.63,802.68 L521.90,798.70 L523.36,793.24 L524.80,787.16 L526.10,781.70 L527.11,777.67 L527.99,774.27 L529.00,770.40 L530.30,765.28 L531.74,759.69 L533.20,754.80 L534.53,750.97 L535.86,747.85 L537.50,745.60 L539.73,744.35 L542.27,743.96 L544.50,744.20 L546.14,745.10 L547.47,746.63 L548.80,748.40 L550.26,750.24 L551.70,752.33 L553.00,754.80 L554.01,757.94 L554.89,761.48 L555.90,764.70 L557.20,767.12 L558.64,769.23 L560.10,771.80 L561.53,775.20 L562.97,779.07 L564.40,783.10 L565.81,787.26 L567.20,791.59 L568.60,795.90 L570.00,800.30 L571.39,804.68 L572.80,808.60 L574.23,811.69 L575.67,814.32 L577.10,817.10 L578.54,820.44 L579.97,823.94 L581.30,827.00 L582.36,829.31 L583.33,831.19 L584.60,833.00 L586.37,834.70 L588.44,836.34 L590.70,838.40 L593.09,841.57 L595.66,845.16 L598.40,847.60 L601.41,847.91 L604.59,847.09 L607.60,846.50 L610.17,846.80 L612.57,847.35 L615.30,847.60 L618.81,847.08 L622.66,846.26 L626.00,846.00 L628.20,847.03 L629.90,848.63 L632.10,849.50 L635.38,848.81 L639.17,847.41 L642.80,846.50 L646.09,846.77 L649.21,847.53 L652.00,848.00 L654.29,847.66 L656.25,847.01 L658.20,846.80 L660.24,847.30 L662.27,848.23 L664.30,849.50 L666.44,851.39 L668.59,853.61 L670.40,855.20 L671.77,855.62 L672.81,855.41 L673.50,855.20" fill="none" stroke="#f59a9a" stroke-width="1.1" stroke-linejoin="round" />
<text transform="translate(368.30,936.90) scale(0.9,1)" font-size="15.3" font-weight="bold" fill="#000" font-family='"Liberation Sans", sans-serif'>k</text>
<line x1="414.60" y1="934.60" x2="414.60" y2="1079.40" stroke="#cfcfcf" stroke-width="1.1" />
<line x1="414.60" y1="1079.40" x2="674.30" y2="1079.40" stroke="#cfcfcf" stroke-width="1.5" />
<line x1="412.40" y1="935.10" x2="417.00" y2="935.10" stroke="#aaa" stroke-width="0.9" />
<line x1="413.60" y1="1007.30" x2="417.00" y2="1007.30" stroke="#bbb" stroke-width="0.9" />
<line x1="544.30" y1="1079.40" x2="544.30" y2="1082.00" stroke="#999" stroke-width="0.8" />
<text x="409.60" y="939.40" font-size="11.7" text-anchor="end" fill="#111" font-weight="normal" font-family='"Liberation Sans", sans-serif' >18.8</text>
<text transform="translate(396.6,1008.2) rotate(-90)" font-size="11.8" text-anchor="middle" fill="#111" font-family='"Liberation Sans", sans-serif'>Mean density</text>
<text x="414.60" y="1095.20" font-size="12" text-anchor="middle" fill="#111" font-weight="normal" font-family='"Liberation Sans", sans-serif' >−5.0</text>
<text x="673.60" y="1095.20" font-size="12" text-anchor="middle" fill="#111" font-weight="normal" font-family='"Liberation Sans", sans-serif' >+5.0</text>
<path d="M544.30,1088.60 L544.91,1090.06 L546.49,1090.19 L545.28,1091.22 L545.65,1092.76 L544.30,1091.94 L542.95,1092.76 L543.32,1091.22 L542.11,1090.19 L543.69,1090.06Z" fill="#000"/>
<path d="M414.70,1074.80 L420.71,1075.29 L429.54,1075.97 L440.00,1076.50 L452.67,1076.71 L466.97,1076.77 L480.00,1076.80 L490.91,1076.96 L500.55,1077.09 L508.50,1076.80 L514.13,1075.92 L518.08,1074.61 L521.80,1073.00 L525.92,1070.94 L529.82,1068.57 L533.10,1066.40 L535.43,1064.80 L537.14,1063.41 L538.80,1061.60 L540.60,1058.41 L542.36,1054.81 L544.10,1053.10 L545.79,1054.74 L547.47,1058.27 L549.30,1061.60 L551.15,1063.97 L553.15,1066.14 L555.90,1068.30 L559.91,1070.68 L564.66,1073.05 L569.20,1074.90 L572.16,1075.92 L574.90,1076.42 L580.60,1076.80 L592.01,1077.18 L606.39,1077.43 L618.60,1077.60 L626.56,1077.70 L632.36,1077.71 L637.20,1077.60 L641.22,1077.35 L644.29,1076.98 L647.20,1076.50 L650.17,1075.91 L652.98,1075.21 L655.80,1074.40 L658.83,1073.33 L661.87,1072.14 L664.50,1071.30 L666.47,1071.03 L668.02,1071.10 L669.50,1071.30 L671.14,1071.66 L672.71,1072.14 L673.80,1072.50" fill="none" stroke="#8de08a" stroke-width="1.1" stroke-linejoin="round" />
<path d="M414.70,1063.60 L419.89,1064.23 L427.37,1065.04 L435.30,1065.30 L443.40,1064.53 L451.96,1063.20 L460.00,1062.00 L467.26,1061.24 L474.00,1060.61 L480.00,1059.80 L485.07,1058.72 L489.40,1057.47 L493.30,1056.00 L496.75,1054.45 L499.77,1052.69 L502.80,1050.30 L506.04,1047.13 L509.27,1043.33 L512.30,1038.90 L514.98,1033.48 L517.44,1027.43 L519.90,1021.80 L522.40,1016.80 L524.90,1012.23 L527.40,1008.50 L530.07,1006.32 L532.74,1004.98 L535.00,1002.80 L536.49,999.03 L537.56,994.42 L538.80,989.50 L540.50,983.36 L542.36,976.91 L544.10,973.40 L545.56,974.51 L546.90,978.57 L548.30,983.80 L549.79,990.69 L551.34,998.75 L553.10,1004.70 L555.20,1006.39 L557.50,1005.97 L559.70,1006.60 L561.60,1009.49 L563.39,1013.43 L565.40,1018.00 L567.72,1023.39 L570.26,1029.39 L573.00,1035.00 L575.96,1039.95 L579.12,1044.50 L582.50,1048.40 L586.16,1051.57 L590.03,1054.10 L593.90,1056.00 L597.77,1057.13 L601.63,1057.62 L605.30,1057.90 L608.67,1057.96 L611.83,1057.80 L614.90,1057.90 L617.69,1058.57 L620.37,1059.50 L623.60,1060.20 L628.04,1060.40 L633.03,1060.39 L637.20,1060.50 L639.59,1060.90 L641.15,1061.43 L643.40,1062.00 L647.21,1062.71 L651.71,1063.46 L655.80,1063.90 L658.95,1063.81 L661.69,1063.41 L664.50,1063.00 L667.90,1062.64 L671.37,1062.26 L673.80,1062.00" fill="none" stroke="#fbc88a" stroke-width="1.1" stroke-linejoin="round" />
<path d="M414.70,1066.00 L419.79,1066.31 L427.13,1066.74 L435.00,1067.00 L443.17,1066.97 L451.86,1066.77 L460.00,1066.50 L467.36,1066.24 L474.16,1065.91 L480.00,1065.40 L484.51,1064.73 L488.06,1063.88 L491.40,1062.60 L494.71,1060.79 L497.80,1058.56 L500.90,1056.00 L504.14,1053.12 L507.37,1049.92 L510.40,1046.50 L513.08,1042.88 L515.54,1039.03 L518.00,1035.00 L520.57,1030.59 L523.14,1025.99 L525.50,1021.80 L527.57,1018.43 L529.43,1015.47 L531.20,1012.30 L532.94,1008.92 L534.58,1005.33 L536.00,1000.90 L537.08,995.48 L537.93,989.21 L538.80,981.90 L539.78,972.75 L540.77,962.55 L541.70,953.50 L542.54,945.36 L543.33,938.37 L544.10,935.40 L544.85,938.37 L545.59,945.36 L546.40,953.50 L547.33,962.27 L548.32,972.19 L549.30,981.90 L550.20,991.60 L551.10,1001.11 L552.10,1008.50 L553.22,1012.44 L554.46,1014.27 L555.90,1016.10 L557.66,1018.50 L559.63,1020.89 L561.60,1023.70 L563.50,1027.26 L565.40,1031.22 L567.30,1035.00 L569.13,1038.33 L570.96,1041.47 L573.00,1044.60 L575.32,1047.91 L577.86,1051.22 L580.60,1054.10 L583.56,1056.36 L586.72,1058.19 L590.10,1059.80 L593.64,1061.28 L597.39,1062.53 L601.50,1063.50 L606.44,1063.99 L611.74,1064.19 L616.10,1064.60 L618.65,1065.62 L620.26,1066.86 L622.30,1067.60 L625.26,1067.37 L628.65,1066.64 L632.30,1066.20 L636.49,1066.39 L640.94,1066.86 L644.70,1067.30 L647.18,1067.70 L648.97,1068.09 L650.90,1068.20 L653.14,1067.87 L655.51,1067.27 L658.30,1066.70 L662.01,1066.23 L666.14,1065.80 L669.50,1065.50 L671.60,1065.41 L672.94,1065.46 L673.80,1065.50" fill="none" stroke="#f59a9a" stroke-width="1.1" stroke-linejoin="round" /></svg>
</body></html>
